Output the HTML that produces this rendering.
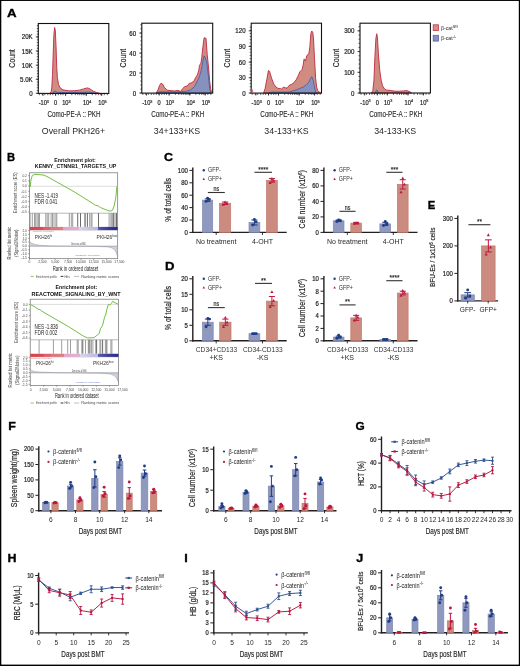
<!DOCTYPE html>
<html><head><meta charset="utf-8"><style>
html,body{margin:0;padding:0;background:#fff;width:520px;height:666px;overflow:hidden}
svg{display:block;will-change:transform}
text{font-family:"Liberation Sans", sans-serif}
</style></head><body>
<svg width="520" height="666" viewBox="0 0 520 666">
<rect x="0" y="0" width="520" height="666" fill="#fff"/>
<g fill="#231f20">
<rect x="0" y="0" width="520" height="0.95" fill="#000"/><rect x="0" y="0" width="1.3" height="666" fill="#000"/><rect x="518.8" y="0" width="1.2" height="666" fill="#000"/><rect x="0" y="664.6" width="520" height="1.4" fill="#000"/>
<path d="M49.77 93.31 L51.15 91.93 L51.85 87.08 L52.54 74.62 L53.23 52.46 L53.92 34.46 L54.62 27.54 L55.31 30.31 L56 45.54 L56.69 66.31 L57.39 77.39 L58.49 84.31 L60.15 87.77 L62.92 89.85 L68.46 90.82 L74 90.82 L79.54 90.13 L83.69 88.88 L87.16 87.91 L89.23 88.46 L91.31 89.85 L93.39 91.23 L96.16 92.34 L99.62 93.31 L99.62 93.4 L49.77 93.4Z" fill="#d08c80" stroke="#c0304b" stroke-width="0.95" stroke-linejoin="round"/>
<path d="M53.23 93.31 L54.62 90.82 L55.59 91.51 L57.39 92.34 L65.69 92.62 L79.54 92.34 L89.23 92.06 L93.39 92.89 L96.16 93.31 L96.16 93.4 L53.23 93.4Z" fill="#8791be" stroke="#41579a" stroke-width="0.75" stroke-linejoin="round"/>
<rect x="38.3" y="23.5" width="70.5" height="69.9" fill="none" stroke="#111" stroke-width="1.1"/>
<line x1="35.8" y1="36.9" x2="38.3" y2="36.9" stroke="#231f20" stroke-width="0.8"/>
<text transform="translate(32.7 39.42) scale(0.88 1)" font-size="7" text-anchor="end" stroke="#231f20" stroke-width="0.22">20K</text>
<line x1="35.8" y1="51" x2="38.3" y2="51" stroke="#231f20" stroke-width="0.8"/>
<text transform="translate(32.7 53.52) scale(0.88 1)" font-size="7" text-anchor="end" stroke="#231f20" stroke-width="0.22">15K</text>
<line x1="35.8" y1="65.2" x2="38.3" y2="65.2" stroke="#231f20" stroke-width="0.8"/>
<text transform="translate(32.7 67.72) scale(0.88 1)" font-size="7" text-anchor="end" stroke="#231f20" stroke-width="0.22">10K</text>
<line x1="35.8" y1="79.2" x2="38.3" y2="79.2" stroke="#231f20" stroke-width="0.8"/>
<text transform="translate(32.7 81.72) scale(0.88 1)" font-size="7" text-anchor="end" stroke="#231f20" stroke-width="0.22">5.0K</text>
<line x1="35.8" y1="93.3" x2="38.3" y2="93.3" stroke="#231f20" stroke-width="0.8"/>
<text transform="translate(32.7 95.82) scale(0.88 1)" font-size="7" text-anchor="end" stroke="#231f20" stroke-width="0.22">0</text>
<line x1="36.8" y1="93.4" x2="38.3" y2="93.4" stroke="#231f20" stroke-width="0.7"/>
<line x1="36.8" y1="90.58" x2="38.3" y2="90.58" stroke="#231f20" stroke-width="0.7"/>
<line x1="36.8" y1="87.76" x2="38.3" y2="87.76" stroke="#231f20" stroke-width="0.7"/>
<line x1="36.8" y1="84.94" x2="38.3" y2="84.94" stroke="#231f20" stroke-width="0.7"/>
<line x1="36.8" y1="82.12" x2="38.3" y2="82.12" stroke="#231f20" stroke-width="0.7"/>
<line x1="36.8" y1="79.3" x2="38.3" y2="79.3" stroke="#231f20" stroke-width="0.7"/>
<line x1="36.8" y1="76.48" x2="38.3" y2="76.48" stroke="#231f20" stroke-width="0.7"/>
<line x1="36.8" y1="73.66" x2="38.3" y2="73.66" stroke="#231f20" stroke-width="0.7"/>
<line x1="36.8" y1="70.84" x2="38.3" y2="70.84" stroke="#231f20" stroke-width="0.7"/>
<line x1="36.8" y1="68.02" x2="38.3" y2="68.02" stroke="#231f20" stroke-width="0.7"/>
<line x1="36.8" y1="65.2" x2="38.3" y2="65.2" stroke="#231f20" stroke-width="0.7"/>
<line x1="36.8" y1="62.38" x2="38.3" y2="62.38" stroke="#231f20" stroke-width="0.7"/>
<line x1="36.8" y1="59.56" x2="38.3" y2="59.56" stroke="#231f20" stroke-width="0.7"/>
<line x1="36.8" y1="56.74" x2="38.3" y2="56.74" stroke="#231f20" stroke-width="0.7"/>
<line x1="36.8" y1="53.92" x2="38.3" y2="53.92" stroke="#231f20" stroke-width="0.7"/>
<line x1="36.8" y1="51.1" x2="38.3" y2="51.1" stroke="#231f20" stroke-width="0.7"/>
<line x1="36.8" y1="48.28" x2="38.3" y2="48.28" stroke="#231f20" stroke-width="0.7"/>
<line x1="36.8" y1="45.46" x2="38.3" y2="45.46" stroke="#231f20" stroke-width="0.7"/>
<line x1="36.8" y1="42.64" x2="38.3" y2="42.64" stroke="#231f20" stroke-width="0.7"/>
<line x1="36.8" y1="39.82" x2="38.3" y2="39.82" stroke="#231f20" stroke-width="0.7"/>
<line x1="36.8" y1="37" x2="38.3" y2="37" stroke="#231f20" stroke-width="0.7"/>
<line x1="36.8" y1="34.18" x2="38.3" y2="34.18" stroke="#231f20" stroke-width="0.7"/>
<line x1="36.8" y1="31.36" x2="38.3" y2="31.36" stroke="#231f20" stroke-width="0.7"/>
<line x1="36.8" y1="28.54" x2="38.3" y2="28.54" stroke="#231f20" stroke-width="0.7"/>
<line x1="36.8" y1="25.72" x2="38.3" y2="25.72" stroke="#231f20" stroke-width="0.7"/>
<line x1="43" y1="93.4" x2="43" y2="95.9" stroke="#231f20" stroke-width="0.8"/>
<line x1="55.6" y1="93.4" x2="55.6" y2="95.9" stroke="#231f20" stroke-width="0.8"/>
<line x1="65.6" y1="93.4" x2="65.6" y2="95.9" stroke="#231f20" stroke-width="0.8"/>
<line x1="86.3" y1="93.4" x2="86.3" y2="95.9" stroke="#231f20" stroke-width="0.8"/>
<line x1="101.7" y1="93.4" x2="101.7" y2="95.9" stroke="#231f20" stroke-width="0.8"/>
<line x1="39.3" y1="93.4" x2="39.3" y2="95.2" stroke="#231f20" stroke-width="0.75"/>
<line x1="42.3" y1="93.4" x2="42.3" y2="95.2" stroke="#231f20" stroke-width="0.75"/>
<line x1="44.8" y1="93.4" x2="44.8" y2="95.2" stroke="#231f20" stroke-width="0.75"/>
<line x1="47.8" y1="93.4" x2="47.8" y2="95.2" stroke="#231f20" stroke-width="0.75"/>
<line x1="50.3" y1="93.4" x2="50.3" y2="95.2" stroke="#231f20" stroke-width="0.75"/>
<line x1="52.8" y1="93.4" x2="52.8" y2="95.2" stroke="#231f20" stroke-width="0.75"/>
<line x1="55.6" y1="93.4" x2="55.6" y2="95.2" stroke="#231f20" stroke-width="0.75"/>
<line x1="58.3" y1="93.4" x2="58.3" y2="95.2" stroke="#231f20" stroke-width="0.75"/>
<line x1="60.8" y1="93.4" x2="60.8" y2="95.2" stroke="#231f20" stroke-width="0.75"/>
<line x1="63" y1="93.4" x2="63" y2="95.2" stroke="#231f20" stroke-width="0.75"/>
<line x1="65.6" y1="93.4" x2="65.6" y2="95.2" stroke="#231f20" stroke-width="0.75"/>
<line x1="71.8" y1="93.4" x2="71.8" y2="95.2" stroke="#231f20" stroke-width="0.75"/>
<line x1="75.3" y1="93.4" x2="75.3" y2="95.2" stroke="#231f20" stroke-width="0.75"/>
<line x1="77.8" y1="93.4" x2="77.8" y2="95.2" stroke="#231f20" stroke-width="0.75"/>
<line x1="79.8" y1="93.4" x2="79.8" y2="95.2" stroke="#231f20" stroke-width="0.75"/>
<line x1="81.8" y1="93.4" x2="81.8" y2="95.2" stroke="#231f20" stroke-width="0.75"/>
<line x1="83.3" y1="93.4" x2="83.3" y2="95.2" stroke="#231f20" stroke-width="0.75"/>
<line x1="84.8" y1="93.4" x2="84.8" y2="95.2" stroke="#231f20" stroke-width="0.75"/>
<line x1="86.3" y1="93.4" x2="86.3" y2="95.2" stroke="#231f20" stroke-width="0.75"/>
<line x1="92.3" y1="93.4" x2="92.3" y2="95.2" stroke="#231f20" stroke-width="0.75"/>
<line x1="95.8" y1="93.4" x2="95.8" y2="95.2" stroke="#231f20" stroke-width="0.75"/>
<line x1="98.3" y1="93.4" x2="98.3" y2="95.2" stroke="#231f20" stroke-width="0.75"/>
<line x1="100.3" y1="93.4" x2="100.3" y2="95.2" stroke="#231f20" stroke-width="0.75"/>
<line x1="101.7" y1="93.4" x2="101.7" y2="95.2" stroke="#231f20" stroke-width="0.75"/>
<line x1="104.3" y1="93.4" x2="104.3" y2="95.2" stroke="#231f20" stroke-width="0.75"/>
<line x1="107.3" y1="93.4" x2="107.3" y2="95.2" stroke="#231f20" stroke-width="0.75"/>
<text transform="translate(43.8 105.2) scale(0.86 1)" font-size="6.6" text-anchor="middle" stroke="#231f20" stroke-width="0.2">-10<tspan font-size="4.4" dy="-2.4">3</tspan></text>
<text transform="translate(55.6 105.2) scale(0.86 1)" font-size="6.6" text-anchor="middle" stroke="#231f20" stroke-width="0.2">0</text>
<text transform="translate(66.4 105.2) scale(0.86 1)" font-size="6.6" text-anchor="middle" stroke="#231f20" stroke-width="0.2">10<tspan font-size="4.4" dy="-2.4">3</tspan></text>
<text transform="translate(87.1 105.2) scale(0.86 1)" font-size="6.6" text-anchor="middle" stroke="#231f20" stroke-width="0.2">10<tspan font-size="4.4" dy="-2.4">4</tspan></text>
<text transform="translate(102.5 105.2) scale(0.86 1)" font-size="6.6" text-anchor="middle" stroke="#231f20" stroke-width="0.2">10<tspan font-size="4.4" dy="-2.4">5</tspan></text>
<text x="74.05" y="117.13" font-size="8.7" text-anchor="middle" textLength="53" lengthAdjust="spacingAndGlyphs" stroke="#231f20" stroke-width="0.12">Como-PE-A :: PKH</text>
<text transform="rotate(-90 11.5 58.45)" x="11.5" y="61.47" font-size="8.4" text-anchor="middle" textLength="18.5" lengthAdjust="spacingAndGlyphs" stroke="#231f20" stroke-width="0.15">Count</text>
<text x="73.5" y="133.97" font-size="8.8" text-anchor="middle">Overall PKH26+</text>
<path d="M156.2 93.1 L158 90 L159.6 85.4 L161 83.2 L162.5 84 L164.5 87.5 L167.3 90.2 L172 90.8 L175 91 L177.9 90.3 L180.4 91.5 L182.8 88.5 L184.8 86.4 L187.2 86.1 L189.1 83.5 L191.6 82.7 L194 81.2 L195.5 77.8 L197.4 74.9 L198.9 70 L199.4 65.6 L200.9 63.2 L201.8 57.3 L202.8 47.6 L204.1 37.8 L206 38.3 L207.2 54.4 L208.7 69 L209.6 80.7 L210.6 88.5 L211.6 92.5 L211.6 93.1 L156.2 93.1Z" fill="#d08c80" stroke="#c0304b" stroke-width="0.95" stroke-linejoin="round"/>
<path d="M156.2 93.1 L160 91.8 L175 92 L184.8 91.5 L190.6 90 L194.5 86.6 L197.4 80.7 L199.4 76.8 L201.3 70 L202.8 61.2 L204.1 55.9 L205.2 57.3 L206.7 62.2 L208.2 73.9 L209.6 88.5 L210.6 92.5 L210.6 93.1 L156.2 93.1Z" fill="#8791be" stroke="#41579a" stroke-width="0.75" stroke-linejoin="round"/>
<rect x="141.8" y="23.2" width="70.9" height="69.9" fill="none" stroke="#111" stroke-width="1.1"/>
<line x1="139.3" y1="33.1" x2="141.8" y2="33.1" stroke="#231f20" stroke-width="0.8"/>
<text transform="translate(136.2 35.62) scale(0.88 1)" font-size="7" text-anchor="end" stroke="#231f20" stroke-width="0.22">60</text>
<line x1="139.3" y1="53.2" x2="141.8" y2="53.2" stroke="#231f20" stroke-width="0.8"/>
<text transform="translate(136.2 55.72) scale(0.88 1)" font-size="7" text-anchor="end" stroke="#231f20" stroke-width="0.22">40</text>
<line x1="139.3" y1="73" x2="141.8" y2="73" stroke="#231f20" stroke-width="0.8"/>
<text transform="translate(136.2 75.52) scale(0.88 1)" font-size="7" text-anchor="end" stroke="#231f20" stroke-width="0.22">20</text>
<line x1="139.3" y1="93" x2="141.8" y2="93" stroke="#231f20" stroke-width="0.8"/>
<text transform="translate(136.2 95.52) scale(0.88 1)" font-size="7" text-anchor="end" stroke="#231f20" stroke-width="0.22">0</text>
<line x1="140.3" y1="93.1" x2="141.8" y2="93.1" stroke="#231f20" stroke-width="0.7"/>
<line x1="140.3" y1="89.08" x2="141.8" y2="89.08" stroke="#231f20" stroke-width="0.7"/>
<line x1="140.3" y1="85.06" x2="141.8" y2="85.06" stroke="#231f20" stroke-width="0.7"/>
<line x1="140.3" y1="81.04" x2="141.8" y2="81.04" stroke="#231f20" stroke-width="0.7"/>
<line x1="140.3" y1="77.02" x2="141.8" y2="77.02" stroke="#231f20" stroke-width="0.7"/>
<line x1="140.3" y1="73" x2="141.8" y2="73" stroke="#231f20" stroke-width="0.7"/>
<line x1="140.3" y1="68.98" x2="141.8" y2="68.98" stroke="#231f20" stroke-width="0.7"/>
<line x1="140.3" y1="64.96" x2="141.8" y2="64.96" stroke="#231f20" stroke-width="0.7"/>
<line x1="140.3" y1="60.94" x2="141.8" y2="60.94" stroke="#231f20" stroke-width="0.7"/>
<line x1="140.3" y1="56.92" x2="141.8" y2="56.92" stroke="#231f20" stroke-width="0.7"/>
<line x1="140.3" y1="52.9" x2="141.8" y2="52.9" stroke="#231f20" stroke-width="0.7"/>
<line x1="140.3" y1="48.88" x2="141.8" y2="48.88" stroke="#231f20" stroke-width="0.7"/>
<line x1="140.3" y1="44.86" x2="141.8" y2="44.86" stroke="#231f20" stroke-width="0.7"/>
<line x1="140.3" y1="40.84" x2="141.8" y2="40.84" stroke="#231f20" stroke-width="0.7"/>
<line x1="140.3" y1="36.82" x2="141.8" y2="36.82" stroke="#231f20" stroke-width="0.7"/>
<line x1="140.3" y1="32.8" x2="141.8" y2="32.8" stroke="#231f20" stroke-width="0.7"/>
<line x1="140.3" y1="28.78" x2="141.8" y2="28.78" stroke="#231f20" stroke-width="0.7"/>
<line x1="140.3" y1="24.76" x2="141.8" y2="24.76" stroke="#231f20" stroke-width="0.7"/>
<line x1="146.5" y1="93.1" x2="146.5" y2="95.6" stroke="#231f20" stroke-width="0.8"/>
<line x1="159.1" y1="93.1" x2="159.1" y2="95.6" stroke="#231f20" stroke-width="0.8"/>
<line x1="169.1" y1="93.1" x2="169.1" y2="95.6" stroke="#231f20" stroke-width="0.8"/>
<line x1="189.8" y1="93.1" x2="189.8" y2="95.6" stroke="#231f20" stroke-width="0.8"/>
<line x1="205.2" y1="93.1" x2="205.2" y2="95.6" stroke="#231f20" stroke-width="0.8"/>
<line x1="142.8" y1="93.1" x2="142.8" y2="94.9" stroke="#231f20" stroke-width="0.75"/>
<line x1="145.8" y1="93.1" x2="145.8" y2="94.9" stroke="#231f20" stroke-width="0.75"/>
<line x1="148.3" y1="93.1" x2="148.3" y2="94.9" stroke="#231f20" stroke-width="0.75"/>
<line x1="151.3" y1="93.1" x2="151.3" y2="94.9" stroke="#231f20" stroke-width="0.75"/>
<line x1="153.8" y1="93.1" x2="153.8" y2="94.9" stroke="#231f20" stroke-width="0.75"/>
<line x1="156.3" y1="93.1" x2="156.3" y2="94.9" stroke="#231f20" stroke-width="0.75"/>
<line x1="159.1" y1="93.1" x2="159.1" y2="94.9" stroke="#231f20" stroke-width="0.75"/>
<line x1="161.8" y1="93.1" x2="161.8" y2="94.9" stroke="#231f20" stroke-width="0.75"/>
<line x1="164.3" y1="93.1" x2="164.3" y2="94.9" stroke="#231f20" stroke-width="0.75"/>
<line x1="166.5" y1="93.1" x2="166.5" y2="94.9" stroke="#231f20" stroke-width="0.75"/>
<line x1="169.1" y1="93.1" x2="169.1" y2="94.9" stroke="#231f20" stroke-width="0.75"/>
<line x1="175.3" y1="93.1" x2="175.3" y2="94.9" stroke="#231f20" stroke-width="0.75"/>
<line x1="178.8" y1="93.1" x2="178.8" y2="94.9" stroke="#231f20" stroke-width="0.75"/>
<line x1="181.3" y1="93.1" x2="181.3" y2="94.9" stroke="#231f20" stroke-width="0.75"/>
<line x1="183.3" y1="93.1" x2="183.3" y2="94.9" stroke="#231f20" stroke-width="0.75"/>
<line x1="185.3" y1="93.1" x2="185.3" y2="94.9" stroke="#231f20" stroke-width="0.75"/>
<line x1="186.8" y1="93.1" x2="186.8" y2="94.9" stroke="#231f20" stroke-width="0.75"/>
<line x1="188.3" y1="93.1" x2="188.3" y2="94.9" stroke="#231f20" stroke-width="0.75"/>
<line x1="189.8" y1="93.1" x2="189.8" y2="94.9" stroke="#231f20" stroke-width="0.75"/>
<line x1="195.8" y1="93.1" x2="195.8" y2="94.9" stroke="#231f20" stroke-width="0.75"/>
<line x1="199.3" y1="93.1" x2="199.3" y2="94.9" stroke="#231f20" stroke-width="0.75"/>
<line x1="201.8" y1="93.1" x2="201.8" y2="94.9" stroke="#231f20" stroke-width="0.75"/>
<line x1="203.8" y1="93.1" x2="203.8" y2="94.9" stroke="#231f20" stroke-width="0.75"/>
<line x1="205.2" y1="93.1" x2="205.2" y2="94.9" stroke="#231f20" stroke-width="0.75"/>
<line x1="207.8" y1="93.1" x2="207.8" y2="94.9" stroke="#231f20" stroke-width="0.75"/>
<line x1="210.8" y1="93.1" x2="210.8" y2="94.9" stroke="#231f20" stroke-width="0.75"/>
<text transform="translate(147.3 104.9) scale(0.86 1)" font-size="6.6" text-anchor="middle" stroke="#231f20" stroke-width="0.2">-10<tspan font-size="4.4" dy="-2.4">3</tspan></text>
<text transform="translate(159.1 104.9) scale(0.86 1)" font-size="6.6" text-anchor="middle" stroke="#231f20" stroke-width="0.2">0</text>
<text transform="translate(169.9 104.9) scale(0.86 1)" font-size="6.6" text-anchor="middle" stroke="#231f20" stroke-width="0.2">10<tspan font-size="4.4" dy="-2.4">3</tspan></text>
<text transform="translate(190.6 104.9) scale(0.86 1)" font-size="6.6" text-anchor="middle" stroke="#231f20" stroke-width="0.2">10<tspan font-size="4.4" dy="-2.4">4</tspan></text>
<text transform="translate(206 104.9) scale(0.86 1)" font-size="6.6" text-anchor="middle" stroke="#231f20" stroke-width="0.2">10<tspan font-size="4.4" dy="-2.4">5</tspan></text>
<text x="177.75" y="116.83" font-size="8.7" text-anchor="middle" textLength="53" lengthAdjust="spacingAndGlyphs" stroke="#231f20" stroke-width="0.12">Como-PE-A :: PKH</text>
<text transform="rotate(-90 122.7 58.15)" x="122.7" y="61.17" font-size="8.4" text-anchor="middle" textLength="18.5" lengthAdjust="spacingAndGlyphs" stroke="#231f20" stroke-width="0.15">Count</text>
<text x="177" y="133.97" font-size="8.8" text-anchor="middle">34+133+KS</text>
<path d="M263.7 92.79 L265.14 88.46 L267.02 78.37 L268.46 70.43 L269.47 71.16 L271.64 78.37 L273.8 84.14 L275.96 87.02 L278.13 88.46 L280.29 88.46 L281.73 89.19 L283.46 87.02 L285.34 87.74 L287.21 88.18 L288.94 85.58 L291.83 84.14 L293.99 82.7 L296.16 79.81 L298.32 75.48 L299.76 71.88 L301.93 69.71 L303.08 65.39 L304.09 58.9 L305.53 61.06 L306.69 56.01 L307.7 54.57 L308.85 53.85 L309.86 46.64 L310.87 33.65 L311.73 31.06 L312.74 32.21 L313.46 37.98 L314.47 58.17 L315.63 78.37 L316.64 87.02 L317.79 90.63 L319.23 92.07 L320.68 92.79 L320.68 93.1 L263.7 93.1Z" fill="#d08c80" stroke="#c0304b" stroke-width="0.95" stroke-linejoin="round"/>
<path d="M268.75 92.79 L271.64 92.07 L288.94 92.07 L293.27 90.63 L296.16 89.91 L299.76 88.46 L303.37 87.02 L306.25 84.86 L308.42 82.7 L310.29 79.09 L311.73 76.64 L313.18 79.81 L314.19 85.58 L315.63 92.07 L316.64 92.79 L316.64 93.1 L268.75 93.1Z" fill="#8791be" stroke="#41579a" stroke-width="0.75" stroke-linejoin="round"/>
<rect x="251.2" y="23.2" width="70.3" height="69.9" fill="none" stroke="#111" stroke-width="1.1"/>
<line x1="248.7" y1="30.8" x2="251.2" y2="30.8" stroke="#231f20" stroke-width="0.8"/>
<text transform="translate(245.6 33.32) scale(0.88 1)" font-size="7" text-anchor="end" stroke="#231f20" stroke-width="0.22">120</text>
<line x1="248.7" y1="46.5" x2="251.2" y2="46.5" stroke="#231f20" stroke-width="0.8"/>
<text transform="translate(245.6 49.02) scale(0.88 1)" font-size="7" text-anchor="end" stroke="#231f20" stroke-width="0.22">90</text>
<line x1="248.7" y1="62.2" x2="251.2" y2="62.2" stroke="#231f20" stroke-width="0.8"/>
<text transform="translate(245.6 64.72) scale(0.88 1)" font-size="7" text-anchor="end" stroke="#231f20" stroke-width="0.22">60</text>
<line x1="248.7" y1="77.8" x2="251.2" y2="77.8" stroke="#231f20" stroke-width="0.8"/>
<text transform="translate(245.6 80.32) scale(0.88 1)" font-size="7" text-anchor="end" stroke="#231f20" stroke-width="0.22">30</text>
<line x1="248.7" y1="93" x2="251.2" y2="93" stroke="#231f20" stroke-width="0.8"/>
<text transform="translate(245.6 95.52) scale(0.88 1)" font-size="7" text-anchor="end" stroke="#231f20" stroke-width="0.22">0</text>
<line x1="249.7" y1="93.1" x2="251.2" y2="93.1" stroke="#231f20" stroke-width="0.7"/>
<line x1="249.7" y1="89.96" x2="251.2" y2="89.96" stroke="#231f20" stroke-width="0.7"/>
<line x1="249.7" y1="86.82" x2="251.2" y2="86.82" stroke="#231f20" stroke-width="0.7"/>
<line x1="249.7" y1="83.68" x2="251.2" y2="83.68" stroke="#231f20" stroke-width="0.7"/>
<line x1="249.7" y1="80.54" x2="251.2" y2="80.54" stroke="#231f20" stroke-width="0.7"/>
<line x1="249.7" y1="77.4" x2="251.2" y2="77.4" stroke="#231f20" stroke-width="0.7"/>
<line x1="249.7" y1="74.26" x2="251.2" y2="74.26" stroke="#231f20" stroke-width="0.7"/>
<line x1="249.7" y1="71.12" x2="251.2" y2="71.12" stroke="#231f20" stroke-width="0.7"/>
<line x1="249.7" y1="67.98" x2="251.2" y2="67.98" stroke="#231f20" stroke-width="0.7"/>
<line x1="249.7" y1="64.84" x2="251.2" y2="64.84" stroke="#231f20" stroke-width="0.7"/>
<line x1="249.7" y1="61.7" x2="251.2" y2="61.7" stroke="#231f20" stroke-width="0.7"/>
<line x1="249.7" y1="58.56" x2="251.2" y2="58.56" stroke="#231f20" stroke-width="0.7"/>
<line x1="249.7" y1="55.42" x2="251.2" y2="55.42" stroke="#231f20" stroke-width="0.7"/>
<line x1="249.7" y1="52.28" x2="251.2" y2="52.28" stroke="#231f20" stroke-width="0.7"/>
<line x1="249.7" y1="49.14" x2="251.2" y2="49.14" stroke="#231f20" stroke-width="0.7"/>
<line x1="249.7" y1="46" x2="251.2" y2="46" stroke="#231f20" stroke-width="0.7"/>
<line x1="249.7" y1="42.86" x2="251.2" y2="42.86" stroke="#231f20" stroke-width="0.7"/>
<line x1="249.7" y1="39.72" x2="251.2" y2="39.72" stroke="#231f20" stroke-width="0.7"/>
<line x1="249.7" y1="36.58" x2="251.2" y2="36.58" stroke="#231f20" stroke-width="0.7"/>
<line x1="249.7" y1="33.44" x2="251.2" y2="33.44" stroke="#231f20" stroke-width="0.7"/>
<line x1="249.7" y1="30.3" x2="251.2" y2="30.3" stroke="#231f20" stroke-width="0.7"/>
<line x1="249.7" y1="27.16" x2="251.2" y2="27.16" stroke="#231f20" stroke-width="0.7"/>
<line x1="255.9" y1="93.1" x2="255.9" y2="95.6" stroke="#231f20" stroke-width="0.8"/>
<line x1="268.5" y1="93.1" x2="268.5" y2="95.6" stroke="#231f20" stroke-width="0.8"/>
<line x1="278.5" y1="93.1" x2="278.5" y2="95.6" stroke="#231f20" stroke-width="0.8"/>
<line x1="299.2" y1="93.1" x2="299.2" y2="95.6" stroke="#231f20" stroke-width="0.8"/>
<line x1="314.6" y1="93.1" x2="314.6" y2="95.6" stroke="#231f20" stroke-width="0.8"/>
<line x1="252.2" y1="93.1" x2="252.2" y2="94.9" stroke="#231f20" stroke-width="0.75"/>
<line x1="255.2" y1="93.1" x2="255.2" y2="94.9" stroke="#231f20" stroke-width="0.75"/>
<line x1="257.7" y1="93.1" x2="257.7" y2="94.9" stroke="#231f20" stroke-width="0.75"/>
<line x1="260.7" y1="93.1" x2="260.7" y2="94.9" stroke="#231f20" stroke-width="0.75"/>
<line x1="263.2" y1="93.1" x2="263.2" y2="94.9" stroke="#231f20" stroke-width="0.75"/>
<line x1="265.7" y1="93.1" x2="265.7" y2="94.9" stroke="#231f20" stroke-width="0.75"/>
<line x1="268.5" y1="93.1" x2="268.5" y2="94.9" stroke="#231f20" stroke-width="0.75"/>
<line x1="271.2" y1="93.1" x2="271.2" y2="94.9" stroke="#231f20" stroke-width="0.75"/>
<line x1="273.7" y1="93.1" x2="273.7" y2="94.9" stroke="#231f20" stroke-width="0.75"/>
<line x1="275.9" y1="93.1" x2="275.9" y2="94.9" stroke="#231f20" stroke-width="0.75"/>
<line x1="278.5" y1="93.1" x2="278.5" y2="94.9" stroke="#231f20" stroke-width="0.75"/>
<line x1="284.7" y1="93.1" x2="284.7" y2="94.9" stroke="#231f20" stroke-width="0.75"/>
<line x1="288.2" y1="93.1" x2="288.2" y2="94.9" stroke="#231f20" stroke-width="0.75"/>
<line x1="290.7" y1="93.1" x2="290.7" y2="94.9" stroke="#231f20" stroke-width="0.75"/>
<line x1="292.7" y1="93.1" x2="292.7" y2="94.9" stroke="#231f20" stroke-width="0.75"/>
<line x1="294.7" y1="93.1" x2="294.7" y2="94.9" stroke="#231f20" stroke-width="0.75"/>
<line x1="296.2" y1="93.1" x2="296.2" y2="94.9" stroke="#231f20" stroke-width="0.75"/>
<line x1="297.7" y1="93.1" x2="297.7" y2="94.9" stroke="#231f20" stroke-width="0.75"/>
<line x1="299.2" y1="93.1" x2="299.2" y2="94.9" stroke="#231f20" stroke-width="0.75"/>
<line x1="305.2" y1="93.1" x2="305.2" y2="94.9" stroke="#231f20" stroke-width="0.75"/>
<line x1="308.7" y1="93.1" x2="308.7" y2="94.9" stroke="#231f20" stroke-width="0.75"/>
<line x1="311.2" y1="93.1" x2="311.2" y2="94.9" stroke="#231f20" stroke-width="0.75"/>
<line x1="313.2" y1="93.1" x2="313.2" y2="94.9" stroke="#231f20" stroke-width="0.75"/>
<line x1="314.6" y1="93.1" x2="314.6" y2="94.9" stroke="#231f20" stroke-width="0.75"/>
<line x1="317.2" y1="93.1" x2="317.2" y2="94.9" stroke="#231f20" stroke-width="0.75"/>
<line x1="320.2" y1="93.1" x2="320.2" y2="94.9" stroke="#231f20" stroke-width="0.75"/>
<text transform="translate(256.7 104.9) scale(0.86 1)" font-size="6.6" text-anchor="middle" stroke="#231f20" stroke-width="0.2">-10<tspan font-size="4.4" dy="-2.4">3</tspan></text>
<text transform="translate(268.5 104.9) scale(0.86 1)" font-size="6.6" text-anchor="middle" stroke="#231f20" stroke-width="0.2">0</text>
<text transform="translate(279.3 104.9) scale(0.86 1)" font-size="6.6" text-anchor="middle" stroke="#231f20" stroke-width="0.2">10<tspan font-size="4.4" dy="-2.4">3</tspan></text>
<text transform="translate(300 104.9) scale(0.86 1)" font-size="6.6" text-anchor="middle" stroke="#231f20" stroke-width="0.2">10<tspan font-size="4.4" dy="-2.4">4</tspan></text>
<text transform="translate(315.4 104.9) scale(0.86 1)" font-size="6.6" text-anchor="middle" stroke="#231f20" stroke-width="0.2">10<tspan font-size="4.4" dy="-2.4">5</tspan></text>
<text x="286.85" y="116.83" font-size="8.7" text-anchor="middle" textLength="53" lengthAdjust="spacingAndGlyphs" stroke="#231f20" stroke-width="0.12">Como-PE-A :: PKH</text>
<text transform="rotate(-90 227 58.15)" x="227" y="61.17" font-size="8.4" text-anchor="middle" textLength="18.5" lengthAdjust="spacingAndGlyphs" stroke="#231f20" stroke-width="0.15">Count</text>
<text x="286.5" y="133.97" font-size="8.8" text-anchor="middle">34-133+KS</text>
<path d="M251.5 88 L252.3 90 L253 93 L251.5 93Z" fill="#d68f82" stroke="#c2344f" stroke-width="0.6" stroke-linejoin="round"/>
<path d="M371.46 93.31 L372.85 90.54 L373.95 80.16 L374.92 56.62 L375.89 38.62 L376.72 33.77 L377.42 37.23 L378.39 53.85 L379.77 70.46 L381.15 80.16 L382.54 85.69 L384.62 89.16 L386.69 90.13 L390.85 90.54 L395 91.23 L399.16 91.23 L403.31 90.96 L405.39 90.54 L407.46 90.82 L410.23 91.93 L411.62 93.31 L411.62 93 L371.46 93Z" fill="#d08c80" stroke="#c0304b" stroke-width="0.95" stroke-linejoin="round"/>
<path d="M374.92 93.31 L375.89 91.23 L376.72 89.85 L377.55 90.82 L378.39 93.31 L378.39 93 L374.92 93Z" fill="#8791be" stroke="#41579a" stroke-width="0.75" stroke-linejoin="round"/>
<rect x="360" y="23.2" width="70.4" height="69.8" fill="none" stroke="#111" stroke-width="1.1"/>
<line x1="357.5" y1="30.8" x2="360" y2="30.8" stroke="#231f20" stroke-width="0.8"/>
<text transform="translate(354.4 33.32) scale(0.88 1)" font-size="7" text-anchor="end" stroke="#231f20" stroke-width="0.22">300</text>
<line x1="357.5" y1="51.5" x2="360" y2="51.5" stroke="#231f20" stroke-width="0.8"/>
<text transform="translate(354.4 54.02) scale(0.88 1)" font-size="7" text-anchor="end" stroke="#231f20" stroke-width="0.22">200</text>
<line x1="357.5" y1="72.3" x2="360" y2="72.3" stroke="#231f20" stroke-width="0.8"/>
<text transform="translate(354.4 74.82) scale(0.88 1)" font-size="7" text-anchor="end" stroke="#231f20" stroke-width="0.22">100</text>
<line x1="357.5" y1="93" x2="360" y2="93" stroke="#231f20" stroke-width="0.8"/>
<text transform="translate(354.4 95.52) scale(0.88 1)" font-size="7" text-anchor="end" stroke="#231f20" stroke-width="0.22">0</text>
<line x1="358.5" y1="93" x2="360" y2="93" stroke="#231f20" stroke-width="0.7"/>
<line x1="358.5" y1="88.86" x2="360" y2="88.86" stroke="#231f20" stroke-width="0.7"/>
<line x1="358.5" y1="84.72" x2="360" y2="84.72" stroke="#231f20" stroke-width="0.7"/>
<line x1="358.5" y1="80.58" x2="360" y2="80.58" stroke="#231f20" stroke-width="0.7"/>
<line x1="358.5" y1="76.44" x2="360" y2="76.44" stroke="#231f20" stroke-width="0.7"/>
<line x1="358.5" y1="72.3" x2="360" y2="72.3" stroke="#231f20" stroke-width="0.7"/>
<line x1="358.5" y1="68.16" x2="360" y2="68.16" stroke="#231f20" stroke-width="0.7"/>
<line x1="358.5" y1="64.02" x2="360" y2="64.02" stroke="#231f20" stroke-width="0.7"/>
<line x1="358.5" y1="59.88" x2="360" y2="59.88" stroke="#231f20" stroke-width="0.7"/>
<line x1="358.5" y1="55.74" x2="360" y2="55.74" stroke="#231f20" stroke-width="0.7"/>
<line x1="358.5" y1="51.6" x2="360" y2="51.6" stroke="#231f20" stroke-width="0.7"/>
<line x1="358.5" y1="47.46" x2="360" y2="47.46" stroke="#231f20" stroke-width="0.7"/>
<line x1="358.5" y1="43.32" x2="360" y2="43.32" stroke="#231f20" stroke-width="0.7"/>
<line x1="358.5" y1="39.18" x2="360" y2="39.18" stroke="#231f20" stroke-width="0.7"/>
<line x1="358.5" y1="35.04" x2="360" y2="35.04" stroke="#231f20" stroke-width="0.7"/>
<line x1="358.5" y1="30.9" x2="360" y2="30.9" stroke="#231f20" stroke-width="0.7"/>
<line x1="358.5" y1="26.76" x2="360" y2="26.76" stroke="#231f20" stroke-width="0.7"/>
<line x1="364.7" y1="93" x2="364.7" y2="95.5" stroke="#231f20" stroke-width="0.8"/>
<line x1="377.3" y1="93" x2="377.3" y2="95.5" stroke="#231f20" stroke-width="0.8"/>
<line x1="387.3" y1="93" x2="387.3" y2="95.5" stroke="#231f20" stroke-width="0.8"/>
<line x1="408" y1="93" x2="408" y2="95.5" stroke="#231f20" stroke-width="0.8"/>
<line x1="423.4" y1="93" x2="423.4" y2="95.5" stroke="#231f20" stroke-width="0.8"/>
<line x1="361" y1="93" x2="361" y2="94.8" stroke="#231f20" stroke-width="0.75"/>
<line x1="364" y1="93" x2="364" y2="94.8" stroke="#231f20" stroke-width="0.75"/>
<line x1="366.5" y1="93" x2="366.5" y2="94.8" stroke="#231f20" stroke-width="0.75"/>
<line x1="369.5" y1="93" x2="369.5" y2="94.8" stroke="#231f20" stroke-width="0.75"/>
<line x1="372" y1="93" x2="372" y2="94.8" stroke="#231f20" stroke-width="0.75"/>
<line x1="374.5" y1="93" x2="374.5" y2="94.8" stroke="#231f20" stroke-width="0.75"/>
<line x1="377.3" y1="93" x2="377.3" y2="94.8" stroke="#231f20" stroke-width="0.75"/>
<line x1="380" y1="93" x2="380" y2="94.8" stroke="#231f20" stroke-width="0.75"/>
<line x1="382.5" y1="93" x2="382.5" y2="94.8" stroke="#231f20" stroke-width="0.75"/>
<line x1="384.7" y1="93" x2="384.7" y2="94.8" stroke="#231f20" stroke-width="0.75"/>
<line x1="387.3" y1="93" x2="387.3" y2="94.8" stroke="#231f20" stroke-width="0.75"/>
<line x1="393.5" y1="93" x2="393.5" y2="94.8" stroke="#231f20" stroke-width="0.75"/>
<line x1="397" y1="93" x2="397" y2="94.8" stroke="#231f20" stroke-width="0.75"/>
<line x1="399.5" y1="93" x2="399.5" y2="94.8" stroke="#231f20" stroke-width="0.75"/>
<line x1="401.5" y1="93" x2="401.5" y2="94.8" stroke="#231f20" stroke-width="0.75"/>
<line x1="403.5" y1="93" x2="403.5" y2="94.8" stroke="#231f20" stroke-width="0.75"/>
<line x1="405" y1="93" x2="405" y2="94.8" stroke="#231f20" stroke-width="0.75"/>
<line x1="406.5" y1="93" x2="406.5" y2="94.8" stroke="#231f20" stroke-width="0.75"/>
<line x1="408" y1="93" x2="408" y2="94.8" stroke="#231f20" stroke-width="0.75"/>
<line x1="414" y1="93" x2="414" y2="94.8" stroke="#231f20" stroke-width="0.75"/>
<line x1="417.5" y1="93" x2="417.5" y2="94.8" stroke="#231f20" stroke-width="0.75"/>
<line x1="420" y1="93" x2="420" y2="94.8" stroke="#231f20" stroke-width="0.75"/>
<line x1="422" y1="93" x2="422" y2="94.8" stroke="#231f20" stroke-width="0.75"/>
<line x1="423.4" y1="93" x2="423.4" y2="94.8" stroke="#231f20" stroke-width="0.75"/>
<line x1="426" y1="93" x2="426" y2="94.8" stroke="#231f20" stroke-width="0.75"/>
<line x1="429" y1="93" x2="429" y2="94.8" stroke="#231f20" stroke-width="0.75"/>
<text transform="translate(365.5 104.8) scale(0.86 1)" font-size="6.6" text-anchor="middle" stroke="#231f20" stroke-width="0.2">-10<tspan font-size="4.4" dy="-2.4">3</tspan></text>
<text transform="translate(377.3 104.8) scale(0.86 1)" font-size="6.6" text-anchor="middle" stroke="#231f20" stroke-width="0.2">0</text>
<text transform="translate(388.1 104.8) scale(0.86 1)" font-size="6.6" text-anchor="middle" stroke="#231f20" stroke-width="0.2">10<tspan font-size="4.4" dy="-2.4">3</tspan></text>
<text transform="translate(408.8 104.8) scale(0.86 1)" font-size="6.6" text-anchor="middle" stroke="#231f20" stroke-width="0.2">10<tspan font-size="4.4" dy="-2.4">4</tspan></text>
<text transform="translate(424.2 104.8) scale(0.86 1)" font-size="6.6" text-anchor="middle" stroke="#231f20" stroke-width="0.2">10<tspan font-size="4.4" dy="-2.4">5</tspan></text>
<text x="395.7" y="116.73" font-size="8.7" text-anchor="middle" textLength="53" lengthAdjust="spacingAndGlyphs" stroke="#231f20" stroke-width="0.12">Como-PE-A :: PKH</text>
<text transform="rotate(-90 335.5 58.1)" x="335.5" y="61.12" font-size="8.4" text-anchor="middle" textLength="18.5" lengthAdjust="spacingAndGlyphs" stroke="#231f20" stroke-width="0.15">Count</text>
<text x="395.2" y="133.97" font-size="8.8" text-anchor="middle">34-133-KS</text>
<rect x="433.2" y="24.8" width="5.3" height="5.8" fill="#d68f82" stroke="#c2344f" stroke-width="0.8"/>
<rect x="433.2" y="35.3" width="5.3" height="5.8" fill="#8591c4" stroke="#56629e" stroke-width="0.8"/>
<text x="441" y="29.67" font-size="5.2" text-anchor="start">β-cat<tspan font-size="3.8" dy="-2">fl/fl</tspan></text>
<text x="441" y="40.17" font-size="5.2" text-anchor="start">β-cat<tspan font-size="3.8" dy="-2">-/-</tspan></text>
<text x="7.1" y="160.8" font-size="11.8" font-weight="bold" fill="#000" stroke="#000" stroke-width="0.35" textLength="8.1" lengthAdjust="spacingAndGlyphs">B</text>
<text x="75" y="161.96" font-size="6" text-anchor="middle" font-weight="bold" fill="#111" textLength="41.4" lengthAdjust="spacingAndGlyphs">Enrichment plot:</text>
<text x="75.55" y="168.31" font-size="6" text-anchor="middle" font-weight="bold" fill="#111" textLength="81.5" lengthAdjust="spacingAndGlyphs">KENNY_CTNNB1_TARGETS_UP</text>
<rect x="29.5" y="172.8" width="88.2" height="85.9" fill="none" stroke="#6e6e6e" stroke-width="0.7"/>
<line x1="29.5" y1="213.2" x2="117.7" y2="213.2" stroke="#8a8a8a" stroke-width="0.6"/>
<line x1="29.5" y1="230.1" x2="117.7" y2="230.1" stroke="#9a9a9a" stroke-width="0.5"/>
<line x1="29.5" y1="186.3" x2="117.7" y2="186.3" stroke="#c4c4c4" stroke-width="0.6"/>
<line x1="28" y1="175.7" x2="29.5" y2="175.7" stroke="#555" stroke-width="0.5"/>
<text transform="translate(26.9 177) scale(0.9 1)" font-size="3.6" text-anchor="end" fill="#444">0.2</text>
<line x1="28" y1="180.87" x2="29.5" y2="180.87" stroke="#555" stroke-width="0.5"/>
<text transform="translate(26.9 182.17) scale(0.9 1)" font-size="3.6" text-anchor="end" fill="#444">0.1</text>
<line x1="28" y1="186.04" x2="29.5" y2="186.04" stroke="#555" stroke-width="0.5"/>
<text transform="translate(26.9 187.34) scale(0.9 1)" font-size="3.6" text-anchor="end" fill="#444">0.0</text>
<line x1="28" y1="191.21" x2="29.5" y2="191.21" stroke="#555" stroke-width="0.5"/>
<text transform="translate(26.9 192.51) scale(0.9 1)" font-size="3.6" text-anchor="end" fill="#444">-0.1</text>
<line x1="28" y1="196.39" x2="29.5" y2="196.39" stroke="#555" stroke-width="0.5"/>
<text transform="translate(26.9 197.68) scale(0.9 1)" font-size="3.6" text-anchor="end" fill="#444">-0.2</text>
<line x1="28" y1="201.56" x2="29.5" y2="201.56" stroke="#555" stroke-width="0.5"/>
<text transform="translate(26.9 202.85) scale(0.9 1)" font-size="3.6" text-anchor="end" fill="#444">-0.3</text>
<line x1="28" y1="206.73" x2="29.5" y2="206.73" stroke="#555" stroke-width="0.5"/>
<text transform="translate(26.9 208.02) scale(0.9 1)" font-size="3.6" text-anchor="end" fill="#444">-0.4</text>
<line x1="28" y1="211.9" x2="29.5" y2="211.9" stroke="#555" stroke-width="0.5"/>
<text transform="translate(26.9 213.2) scale(0.9 1)" font-size="3.6" text-anchor="end" fill="#444">-0.5</text>
<path d="M30.2 187 L30.8 181 L31.5 178 L32.3 175.4 L34.8 174.3 L38 174.6 L41 174.8 L44 175.2 L48 177 L55 181 L65 186.6 L75 192.3 L85 198.5 L95.7 205.4 L98.3 206 L100.4 207.5 L104 209 L108.9 210.9 L111 211 L112.5 210.2 L114.1 206 L115.6 198.7 L116.3 193 L116.9 186.4" fill="none" stroke="#6cbb3a" stroke-width="0.95" stroke-linejoin="round"/>
<line x1="30.1" y1="213.2" x2="30.1" y2="226.9" stroke="#8c8c8c" stroke-width="0.85"/>
<line x1="32.3" y1="213.2" x2="32.3" y2="226.9" stroke="#8c8c8c" stroke-width="0.85"/>
<line x1="34.5" y1="213.2" x2="34.5" y2="226.9" stroke="#8c8c8c" stroke-width="0.85"/>
<line x1="35.7" y1="213.2" x2="35.7" y2="226.9" stroke="#8c8c8c" stroke-width="0.85"/>
<line x1="37.1" y1="213.2" x2="37.1" y2="226.9" stroke="#8c8c8c" stroke-width="0.85"/>
<line x1="38.4" y1="213.2" x2="38.4" y2="226.9" stroke="#8c8c8c" stroke-width="0.85"/>
<line x1="39.5" y1="213.2" x2="39.5" y2="226.9" stroke="#8c8c8c" stroke-width="0.85"/>
<line x1="45.8" y1="213.2" x2="45.8" y2="226.9" stroke="#8c8c8c" stroke-width="0.85"/>
<line x1="47.2" y1="213.2" x2="47.2" y2="226.9" stroke="#8c8c8c" stroke-width="0.85"/>
<line x1="48.7" y1="213.2" x2="48.7" y2="226.9" stroke="#8c8c8c" stroke-width="0.85"/>
<line x1="51.1" y1="213.2" x2="51.1" y2="226.9" stroke="#8c8c8c" stroke-width="0.85"/>
<line x1="52.5" y1="213.2" x2="52.5" y2="226.9" stroke="#8c8c8c" stroke-width="0.85"/>
<line x1="54" y1="213.2" x2="54" y2="226.9" stroke="#8c8c8c" stroke-width="0.85"/>
<line x1="55.9" y1="213.2" x2="55.9" y2="226.9" stroke="#8c8c8c" stroke-width="0.85"/>
<line x1="56.8" y1="213.2" x2="56.8" y2="226.9" stroke="#8c8c8c" stroke-width="0.85"/>
<line x1="69.3" y1="213.2" x2="69.3" y2="226.9" stroke="#8c8c8c" stroke-width="0.85"/>
<line x1="71.3" y1="213.2" x2="71.3" y2="226.9" stroke="#8c8c8c" stroke-width="0.85"/>
<line x1="72.7" y1="213.2" x2="72.7" y2="226.9" stroke="#8c8c8c" stroke-width="0.85"/>
<line x1="77.7" y1="213.2" x2="77.7" y2="226.9" stroke="#505050" stroke-width="0.85"/>
<line x1="80.5" y1="213.2" x2="80.5" y2="226.9" stroke="#505050" stroke-width="0.85"/>
<line x1="84.6" y1="213.2" x2="84.6" y2="226.9" stroke="#8c8c8c" stroke-width="0.85"/>
<line x1="85.5" y1="213.2" x2="85.5" y2="226.9" stroke="#8c8c8c" stroke-width="0.85"/>
<line x1="87.4" y1="213.2" x2="87.4" y2="226.9" stroke="#505050" stroke-width="0.85"/>
<line x1="89.7" y1="213.2" x2="89.7" y2="226.9" stroke="#8c8c8c" stroke-width="0.85"/>
<line x1="91.1" y1="213.2" x2="91.1" y2="226.9" stroke="#8c8c8c" stroke-width="0.85"/>
<line x1="92" y1="213.2" x2="92" y2="226.9" stroke="#8c8c8c" stroke-width="0.85"/>
<line x1="98.5" y1="213.2" x2="98.5" y2="226.9" stroke="#505050" stroke-width="0.85"/>
<line x1="109.1" y1="213.2" x2="109.1" y2="226.9" stroke="#8c8c8c" stroke-width="0.85"/>
<line x1="110.9" y1="213.2" x2="110.9" y2="226.9" stroke="#8c8c8c" stroke-width="0.85"/>
<line x1="111.9" y1="213.2" x2="111.9" y2="226.9" stroke="#8c8c8c" stroke-width="0.85"/>
<line x1="112.8" y1="213.2" x2="112.8" y2="226.9" stroke="#8c8c8c" stroke-width="0.85"/>
<line x1="113.7" y1="213.2" x2="113.7" y2="226.9" stroke="#505050" stroke-width="0.85"/>
<line x1="115.1" y1="213.2" x2="115.1" y2="226.9" stroke="#8c8c8c" stroke-width="0.85"/>
<line x1="116.5" y1="213.2" x2="116.5" y2="226.9" stroke="#505050" stroke-width="0.85"/>
<defs><linearGradient id="g172" x1="0" x2="1"><stop offset="0" stop-color="#d6434d"/><stop offset="0.15" stop-color="#d84c56"/><stop offset="0.16" stop-color="#d96170"/><stop offset="0.23" stop-color="#da6474"/><stop offset="0.24" stop-color="#dd7676"/><stop offset="0.378" stop-color="#df7d7d"/><stop offset="0.38" stop-color="#e6a4c8"/><stop offset="0.563" stop-color="#e2b0d4"/><stop offset="0.565" stop-color="#d9d4ee"/><stop offset="0.772" stop-color="#b8b6e2"/><stop offset="0.774" stop-color="#5a5aae"/><stop offset="0.88" stop-color="#3c3c9c"/><stop offset="1" stop-color="#2a2a8e"/></linearGradient></defs>
<rect x="29.5" y="226.9" width="88.2" height="3.2" fill="url(#g172)"/>
<line x1="28" y1="230.5" x2="29.5" y2="230.5" stroke="#555" stroke-width="0.5"/>
<text transform="translate(26.9 231.8) scale(0.9 1)" font-size="3.6" text-anchor="end" fill="#444">2.0</text>
<line x1="28" y1="234.37" x2="29.5" y2="234.37" stroke="#555" stroke-width="0.5"/>
<text transform="translate(26.9 235.67) scale(0.9 1)" font-size="3.6" text-anchor="end" fill="#444">1.5</text>
<line x1="28" y1="238.24" x2="29.5" y2="238.24" stroke="#555" stroke-width="0.5"/>
<text transform="translate(26.9 239.54) scale(0.9 1)" font-size="3.6" text-anchor="end" fill="#444">1.0</text>
<line x1="28" y1="242.11" x2="29.5" y2="242.11" stroke="#555" stroke-width="0.5"/>
<text transform="translate(26.9 243.41) scale(0.9 1)" font-size="3.6" text-anchor="end" fill="#444">0.5</text>
<line x1="28" y1="245.99" x2="29.5" y2="245.99" stroke="#555" stroke-width="0.5"/>
<text transform="translate(26.9 247.28) scale(0.9 1)" font-size="3.6" text-anchor="end" fill="#444">0.0</text>
<line x1="28" y1="249.86" x2="29.5" y2="249.86" stroke="#555" stroke-width="0.5"/>
<text transform="translate(26.9 251.15) scale(0.9 1)" font-size="3.6" text-anchor="end" fill="#444">-0.5</text>
<line x1="28" y1="253.73" x2="29.5" y2="253.73" stroke="#555" stroke-width="0.5"/>
<text transform="translate(26.9 255.02) scale(0.9 1)" font-size="3.6" text-anchor="end" fill="#444">-1.0</text>
<line x1="28" y1="257.6" x2="29.5" y2="257.6" stroke="#555" stroke-width="0.5"/>
<text transform="translate(26.9 258.9) scale(0.9 1)" font-size="3.6" text-anchor="end" fill="#444">-1.5</text>
<path d="M29.5 241.3 L30.5 242.2 L32 243.3 L35 244.5 L40 245.3 L50 245.9 L70 246.2 L95 246.4 L108 246.9 L112 248 L114.5 249.8 L116 252 L117.3 255.5 L117.4 246.2 L29.5 246.2Z" fill="#cfd2da" stroke="#8d939f" stroke-width="0.45" stroke-linejoin="round"/>
<line x1="29.5" y1="246.2" x2="117.7" y2="246.2" stroke="#999" stroke-width="0.35"/>
<text x="32.7" y="232.3" font-size="2.5" text-anchor="start" fill="#e07070" textLength="21" lengthAdjust="spacingAndGlyphs">positively correlated</text>
<text x="75.4" y="256.4" font-size="2.5" text-anchor="start" fill="#6670d0" textLength="24" lengthAdjust="spacingAndGlyphs">negatively correlated</text>
<text x="34.8" y="239.19" font-size="5.8" text-anchor="start" fill="#333" textLength="17.5" lengthAdjust="spacingAndGlyphs">PKH26<tspan font-size="3.8" dy="-2.2">hi</tspan></text>
<text x="96.6" y="239.19" font-size="5.8" text-anchor="start" fill="#333" textLength="20.5" lengthAdjust="spacingAndGlyphs">PKH26<tspan font-size="3.8" dy="-2.2">low</tspan></text>
<text x="78.5" y="245.34" font-size="2.6" text-anchor="middle" fill="#333" textLength="14.5" lengthAdjust="spacingAndGlyphs">Zero cross at 9300</text>
<line x1="29.5" y1="258.7" x2="29.5" y2="260" stroke="#555" stroke-width="0.5"/>
<text transform="translate(29.5 262.93) scale(0.9 1)" font-size="3.7" text-anchor="middle" fill="#444">0</text>
<line x1="42.34" y1="258.7" x2="42.34" y2="260" stroke="#555" stroke-width="0.5"/>
<text transform="translate(42.34 262.93) scale(0.9 1)" font-size="3.7" text-anchor="middle" fill="#444">2,500</text>
<line x1="55.18" y1="258.7" x2="55.18" y2="260" stroke="#555" stroke-width="0.5"/>
<text transform="translate(55.18 262.93) scale(0.9 1)" font-size="3.7" text-anchor="middle" fill="#444">5,000</text>
<line x1="68.02" y1="258.7" x2="68.02" y2="260" stroke="#555" stroke-width="0.5"/>
<text transform="translate(68.02 262.93) scale(0.9 1)" font-size="3.7" text-anchor="middle" fill="#444">7,500</text>
<line x1="80.86" y1="258.7" x2="80.86" y2="260" stroke="#555" stroke-width="0.5"/>
<text transform="translate(80.86 262.93) scale(0.9 1)" font-size="3.7" text-anchor="middle" fill="#444">10,000</text>
<line x1="93.7" y1="258.7" x2="93.7" y2="260" stroke="#555" stroke-width="0.5"/>
<text transform="translate(93.7 262.93) scale(0.9 1)" font-size="3.7" text-anchor="middle" fill="#444">12,500</text>
<line x1="106.54" y1="258.7" x2="106.54" y2="260" stroke="#555" stroke-width="0.5"/>
<text transform="translate(106.54 262.93) scale(0.9 1)" font-size="3.7" text-anchor="middle" fill="#444">15,000</text>
<text transform="translate(119.38 262.93) scale(0.9 1)" font-size="3.7" text-anchor="middle" fill="#444">17,500</text>
<text x="75.5" y="270.92" font-size="7" text-anchor="middle" fill="#222" textLength="45.5" lengthAdjust="spacingAndGlyphs">Rank in ordered dataset</text>
<line x1="30.6" y1="276.4" x2="33.8" y2="276.4" stroke="#6cbb3a" stroke-width="0.8"/>
<text x="35.9" y="277.7" font-size="3.6" text-anchor="start" fill="#444" textLength="21" lengthAdjust="spacingAndGlyphs">Enrichment profile</text>
<line x1="60.6" y1="276.4" x2="63.4" y2="276.4" stroke="#222" stroke-width="0.9"/>
<text x="64.4" y="277.7" font-size="3.6" text-anchor="start" fill="#444" textLength="5.3" lengthAdjust="spacingAndGlyphs">Hits</text>
<line x1="74" y1="276.4" x2="79.2" y2="276.4" stroke="#b0b0b0" stroke-width="0.8"/>
<text x="81.3" y="277.7" font-size="3.6" text-anchor="start" fill="#444" textLength="38" lengthAdjust="spacingAndGlyphs">Ranking metric scores</text>
<text x="34.6" y="197.58" font-size="6.6" text-anchor="start" fill="#222" textLength="23.5" lengthAdjust="spacingAndGlyphs">NES -1.419</text>
<text x="34.6" y="203.88" font-size="6.6" text-anchor="start" fill="#222" textLength="22.8" lengthAdjust="spacingAndGlyphs">FDR 0.041</text>
<text transform="rotate(-90 15.7 192.75)" x="15.7" y="194.48" font-size="4.8" text-anchor="middle" fill="#444" textLength="40.5" lengthAdjust="spacingAndGlyphs">Enrichment score (ES)</text>
<text transform="rotate(-90 9.4 243.25)" x="9.4" y="244.98" font-size="4.8" text-anchor="middle" fill="#444" textLength="32.5" lengthAdjust="spacingAndGlyphs">Ranked list metric</text>
<text transform="rotate(-90 16.5 243.25)" x="16.5" y="244.98" font-size="4.8" text-anchor="middle" fill="#444" textLength="27.5" lengthAdjust="spacingAndGlyphs">(Signal2Noise)</text>
<text x="76.35" y="289.36" font-size="6" text-anchor="middle" font-weight="bold" fill="#111" textLength="41.7" lengthAdjust="spacingAndGlyphs">Enrichment plot:</text>
<text x="76.05" y="295.71" font-size="6" text-anchor="middle" font-weight="bold" fill="#111" textLength="88.9" lengthAdjust="spacingAndGlyphs">REACTOME_SIGNALING_BY_WNT</text>
<rect x="30.2" y="299.2" width="88.2" height="86.3" fill="none" stroke="#6e6e6e" stroke-width="0.7"/>
<line x1="30.2" y1="339.8" x2="118.4" y2="339.8" stroke="#8a8a8a" stroke-width="0.6"/>
<line x1="30.2" y1="356.9" x2="118.4" y2="356.9" stroke="#9a9a9a" stroke-width="0.5"/>
<line x1="30.2" y1="304.4" x2="118.4" y2="304.4" stroke="#c4c4c4" stroke-width="0.6"/>
<line x1="28.7" y1="304.4" x2="30.2" y2="304.4" stroke="#555" stroke-width="0.5"/>
<text transform="translate(27.6 305.7) scale(0.9 1)" font-size="3.6" text-anchor="end" fill="#444">0.0</text>
<line x1="28.7" y1="310.03" x2="30.2" y2="310.03" stroke="#555" stroke-width="0.5"/>
<text transform="translate(27.6 311.33) scale(0.9 1)" font-size="3.6" text-anchor="end" fill="#444">-0.1</text>
<line x1="28.7" y1="315.66" x2="30.2" y2="315.66" stroke="#555" stroke-width="0.5"/>
<text transform="translate(27.6 316.95) scale(0.9 1)" font-size="3.6" text-anchor="end" fill="#444">-0.2</text>
<line x1="28.7" y1="321.29" x2="30.2" y2="321.29" stroke="#555" stroke-width="0.5"/>
<text transform="translate(27.6 322.58) scale(0.9 1)" font-size="3.6" text-anchor="end" fill="#444">-0.3</text>
<line x1="28.7" y1="326.92" x2="30.2" y2="326.92" stroke="#555" stroke-width="0.5"/>
<text transform="translate(27.6 328.21) scale(0.9 1)" font-size="3.6" text-anchor="end" fill="#444">-0.4</text>
<line x1="28.7" y1="332.55" x2="30.2" y2="332.55" stroke="#555" stroke-width="0.5"/>
<text transform="translate(27.6 333.84) scale(0.9 1)" font-size="3.6" text-anchor="end" fill="#444">-0.5</text>
<line x1="28.7" y1="338.17" x2="30.2" y2="338.17" stroke="#555" stroke-width="0.5"/>
<text transform="translate(27.6 339.47) scale(0.9 1)" font-size="3.6" text-anchor="end" fill="#444">-0.6</text>
<path d="M30.2 304.4 L35 307 L39 309.7 L40.1 309.3 L41.2 310.8 L53.8 318.2 L68.7 326.7 L83.5 336.2 L87.7 337.9 L94 337.7 L97.2 335.1 L99.3 333.4 L100.4 328.8 L102.5 325.6 L104.6 317.1 L105.7 315 L106.7 309.7 L108.4 304.4 L109.9 305 L111.4 303.4 L112.7 301.3 L114.1 302.3 L118.3 304.4" fill="none" stroke="#6cbb3a" stroke-width="0.95" stroke-linejoin="round"/>
<line x1="39.1" y1="339.8" x2="39.1" y2="353.75" stroke="#8c8c8c" stroke-width="0.85"/>
<line x1="53.4" y1="339.8" x2="53.4" y2="353.75" stroke="#8c8c8c" stroke-width="0.85"/>
<line x1="61.7" y1="339.8" x2="61.7" y2="353.75" stroke="#8c8c8c" stroke-width="0.85"/>
<line x1="67.7" y1="339.8" x2="67.7" y2="353.75" stroke="#8c8c8c" stroke-width="0.85"/>
<line x1="70.5" y1="339.8" x2="70.5" y2="353.75" stroke="#8c8c8c" stroke-width="0.85"/>
<line x1="77.2" y1="339.8" x2="77.2" y2="353.75" stroke="#8c8c8c" stroke-width="0.85"/>
<line x1="78.2" y1="339.8" x2="78.2" y2="353.75" stroke="#8c8c8c" stroke-width="0.85"/>
<line x1="81.8" y1="339.8" x2="81.8" y2="353.75" stroke="#8c8c8c" stroke-width="0.85"/>
<line x1="82.8" y1="339.8" x2="82.8" y2="353.75" stroke="#505050" stroke-width="0.85"/>
<line x1="85.5" y1="339.8" x2="85.5" y2="353.75" stroke="#8c8c8c" stroke-width="0.85"/>
<line x1="88.3" y1="339.8" x2="88.3" y2="353.75" stroke="#8c8c8c" stroke-width="0.85"/>
<line x1="89.2" y1="339.8" x2="89.2" y2="353.75" stroke="#505050" stroke-width="0.85"/>
<line x1="91.1" y1="339.8" x2="91.1" y2="353.75" stroke="#505050" stroke-width="0.85"/>
<line x1="92.9" y1="339.8" x2="92.9" y2="353.75" stroke="#8c8c8c" stroke-width="0.85"/>
<line x1="95.7" y1="339.8" x2="95.7" y2="353.75" stroke="#8c8c8c" stroke-width="0.85"/>
<line x1="96.6" y1="339.8" x2="96.6" y2="353.75" stroke="#505050" stroke-width="0.85"/>
<line x1="99.9" y1="339.8" x2="99.9" y2="353.75" stroke="#8c8c8c" stroke-width="0.85"/>
<line x1="100.8" y1="339.8" x2="100.8" y2="353.75" stroke="#8c8c8c" stroke-width="0.85"/>
<line x1="102.6" y1="339.8" x2="102.6" y2="353.75" stroke="#505050" stroke-width="0.85"/>
<line x1="105.4" y1="339.8" x2="105.4" y2="353.75" stroke="#8c8c8c" stroke-width="0.85"/>
<line x1="106.8" y1="339.8" x2="106.8" y2="353.75" stroke="#505050" stroke-width="0.85"/>
<line x1="110.9" y1="339.8" x2="110.9" y2="353.75" stroke="#8c8c8c" stroke-width="0.85"/>
<line x1="111.9" y1="339.8" x2="111.9" y2="353.75" stroke="#8c8c8c" stroke-width="0.85"/>
<defs><linearGradient id="g299" x1="0" x2="1"><stop offset="0" stop-color="#d6434d"/><stop offset="0.15" stop-color="#d84c56"/><stop offset="0.16" stop-color="#d96170"/><stop offset="0.23" stop-color="#da6474"/><stop offset="0.24" stop-color="#dd7676"/><stop offset="0.378" stop-color="#df7d7d"/><stop offset="0.38" stop-color="#e6a4c8"/><stop offset="0.563" stop-color="#e2b0d4"/><stop offset="0.565" stop-color="#d9d4ee"/><stop offset="0.772" stop-color="#b8b6e2"/><stop offset="0.774" stop-color="#5a5aae"/><stop offset="0.88" stop-color="#3c3c9c"/><stop offset="1" stop-color="#2a2a8e"/></linearGradient></defs>
<rect x="30.2" y="353.75" width="88.2" height="3.15" fill="url(#g299)"/>
<line x1="28.7" y1="357.3" x2="30.2" y2="357.3" stroke="#555" stroke-width="0.5"/>
<text transform="translate(27.6 358.6) scale(0.9 1)" font-size="3.6" text-anchor="end" fill="#444">2.0</text>
<line x1="28.7" y1="361.17" x2="30.2" y2="361.17" stroke="#555" stroke-width="0.5"/>
<text transform="translate(27.6 362.47) scale(0.9 1)" font-size="3.6" text-anchor="end" fill="#444">1.5</text>
<line x1="28.7" y1="365.04" x2="30.2" y2="365.04" stroke="#555" stroke-width="0.5"/>
<text transform="translate(27.6 366.34) scale(0.9 1)" font-size="3.6" text-anchor="end" fill="#444">1.0</text>
<line x1="28.7" y1="368.91" x2="30.2" y2="368.91" stroke="#555" stroke-width="0.5"/>
<text transform="translate(27.6 370.21) scale(0.9 1)" font-size="3.6" text-anchor="end" fill="#444">0.5</text>
<line x1="28.7" y1="372.79" x2="30.2" y2="372.79" stroke="#555" stroke-width="0.5"/>
<text transform="translate(27.6 374.08) scale(0.9 1)" font-size="3.6" text-anchor="end" fill="#444">0.0</text>
<line x1="28.7" y1="376.66" x2="30.2" y2="376.66" stroke="#555" stroke-width="0.5"/>
<text transform="translate(27.6 377.95) scale(0.9 1)" font-size="3.6" text-anchor="end" fill="#444">-0.5</text>
<line x1="28.7" y1="380.53" x2="30.2" y2="380.53" stroke="#555" stroke-width="0.5"/>
<text transform="translate(27.6 381.82) scale(0.9 1)" font-size="3.6" text-anchor="end" fill="#444">-1.0</text>
<line x1="28.7" y1="384.4" x2="30.2" y2="384.4" stroke="#555" stroke-width="0.5"/>
<text transform="translate(27.6 385.7) scale(0.9 1)" font-size="3.6" text-anchor="end" fill="#444">-1.5</text>
<path d="M30.2 369.6 L31.5 370.5 L34 371.4 L40 372.1 L55 372.6 L80 372.9 L100 373.2 L110 374 L114 375.5 L116.5 378 L118.1 381.2 L118.1 372.8 L30.2 372.8Z" fill="#cfd2da" stroke="#8d939f" stroke-width="0.45" stroke-linejoin="round"/>
<line x1="30.2" y1="372.8" x2="118.4" y2="372.8" stroke="#999" stroke-width="0.35"/>
<text x="31" y="359.1" font-size="2.5" text-anchor="start" fill="#e07070" textLength="20.7" lengthAdjust="spacingAndGlyphs">positively correlated</text>
<text x="76" y="383.2" font-size="2.5" text-anchor="start" fill="#6670d0" textLength="24" lengthAdjust="spacingAndGlyphs">negatively correlated</text>
<text x="35.9" y="365.39" font-size="5.8" text-anchor="start" fill="#333" textLength="17.5" lengthAdjust="spacingAndGlyphs">PKH26<tspan font-size="3.8" dy="-2.2">hi</tspan></text>
<text x="93" y="365.39" font-size="5.8" text-anchor="start" fill="#333" textLength="20.5" lengthAdjust="spacingAndGlyphs">PKH26<tspan font-size="3.8" dy="-2.2">low</tspan></text>
<text x="79.2" y="371.94" font-size="2.6" text-anchor="middle" fill="#333" textLength="14.5" lengthAdjust="spacingAndGlyphs">Zero cross at 9300</text>
<line x1="30.6" y1="385.5" x2="30.6" y2="386.8" stroke="#555" stroke-width="0.5"/>
<text transform="translate(30.6 390.63) scale(0.9 1)" font-size="3.7" text-anchor="middle" fill="#444">0</text>
<line x1="43.74" y1="385.5" x2="43.74" y2="386.8" stroke="#555" stroke-width="0.5"/>
<text transform="translate(43.74 390.63) scale(0.9 1)" font-size="3.7" text-anchor="middle" fill="#444">2,500</text>
<line x1="56.88" y1="385.5" x2="56.88" y2="386.8" stroke="#555" stroke-width="0.5"/>
<text transform="translate(56.88 390.63) scale(0.9 1)" font-size="3.7" text-anchor="middle" fill="#444">5,000</text>
<line x1="70.02" y1="385.5" x2="70.02" y2="386.8" stroke="#555" stroke-width="0.5"/>
<text transform="translate(70.02 390.63) scale(0.9 1)" font-size="3.7" text-anchor="middle" fill="#444">7,500</text>
<line x1="83.16" y1="385.5" x2="83.16" y2="386.8" stroke="#555" stroke-width="0.5"/>
<text transform="translate(83.16 390.63) scale(0.9 1)" font-size="3.7" text-anchor="middle" fill="#444">10,000</text>
<line x1="96.3" y1="385.5" x2="96.3" y2="386.8" stroke="#555" stroke-width="0.5"/>
<text transform="translate(96.3 390.63) scale(0.9 1)" font-size="3.7" text-anchor="middle" fill="#444">12,500</text>
<line x1="109.44" y1="385.5" x2="109.44" y2="386.8" stroke="#555" stroke-width="0.5"/>
<text transform="translate(109.44 390.63) scale(0.9 1)" font-size="3.7" text-anchor="middle" fill="#444">15,000</text>
<text transform="translate(122.58 390.63) scale(0.9 1)" font-size="3.7" text-anchor="middle" fill="#444">17,500</text>
<text x="76.8" y="397.92" font-size="7" text-anchor="middle" fill="#222" textLength="43.8" lengthAdjust="spacingAndGlyphs">Rank in ordered dataset</text>
<line x1="30.6" y1="403" x2="33.8" y2="403" stroke="#6cbb3a" stroke-width="0.8"/>
<text x="35.9" y="404.3" font-size="3.6" text-anchor="start" fill="#444" textLength="21" lengthAdjust="spacingAndGlyphs">Enrichment profile</text>
<line x1="60.6" y1="403" x2="63.4" y2="403" stroke="#222" stroke-width="0.9"/>
<text x="64.4" y="404.3" font-size="3.6" text-anchor="start" fill="#444" textLength="5.3" lengthAdjust="spacingAndGlyphs">Hits</text>
<line x1="74" y1="403" x2="79.2" y2="403" stroke="#b0b0b0" stroke-width="0.8"/>
<text x="81.3" y="404.3" font-size="3.6" text-anchor="start" fill="#444" textLength="38" lengthAdjust="spacingAndGlyphs">Ranking metric scores</text>
<text x="34.6" y="328.58" font-size="6.6" text-anchor="start" fill="#222" textLength="23.5" lengthAdjust="spacingAndGlyphs">NES -1.836</text>
<text x="34.6" y="334.88" font-size="6.6" text-anchor="start" fill="#222" textLength="22.8" lengthAdjust="spacingAndGlyphs">FDR 0.002</text>
<text transform="rotate(-90 16.5 322.3)" x="16.5" y="324.03" font-size="4.8" text-anchor="middle" fill="#444" textLength="41" lengthAdjust="spacingAndGlyphs">Enrichment score (ES)</text>
<text transform="rotate(-90 9.8 370.3)" x="9.8" y="372.03" font-size="4.8" text-anchor="middle" fill="#444" textLength="34.6" lengthAdjust="spacingAndGlyphs">Ranked list metric</text>
<text transform="rotate(-90 17 370.3)" x="17" y="372.03" font-size="4.8" text-anchor="middle" fill="#444" textLength="29.6" lengthAdjust="spacingAndGlyphs">(Signal2Noise)</text>
<text x="163.9" y="160.9" font-size="11.8" font-weight="bold" fill="#000" stroke="#000" stroke-width="0.35" textLength="9" lengthAdjust="spacingAndGlyphs">C</text>
<line x1="192.8" y1="167.6" x2="192.8" y2="233.1" stroke="#231f20" stroke-width="1.4"/>
<line x1="192.1" y1="232.4" x2="286.7" y2="232.4" stroke="#231f20" stroke-width="1.4"/>
<line x1="189.4" y1="232.4" x2="192.8" y2="232.4" stroke="#231f20" stroke-width="1"/>
<text transform="translate(187.8 234.85) scale(0.88 1)" font-size="6.8" text-anchor="end" stroke="#231f20" stroke-width="0.22">0</text>
<line x1="189.4" y1="220" x2="192.8" y2="220" stroke="#231f20" stroke-width="1"/>
<text transform="translate(187.8 222.45) scale(0.88 1)" font-size="6.8" text-anchor="end" stroke="#231f20" stroke-width="0.22">20</text>
<line x1="189.4" y1="207.6" x2="192.8" y2="207.6" stroke="#231f20" stroke-width="1"/>
<text transform="translate(187.8 210.05) scale(0.88 1)" font-size="6.8" text-anchor="end" stroke="#231f20" stroke-width="0.22">40</text>
<line x1="189.4" y1="195.2" x2="192.8" y2="195.2" stroke="#231f20" stroke-width="1"/>
<text transform="translate(187.8 197.65) scale(0.88 1)" font-size="6.8" text-anchor="end" stroke="#231f20" stroke-width="0.22">60</text>
<line x1="189.4" y1="182.8" x2="192.8" y2="182.8" stroke="#231f20" stroke-width="1"/>
<text transform="translate(187.8 185.25) scale(0.88 1)" font-size="6.8" text-anchor="end" stroke="#231f20" stroke-width="0.22">80</text>
<line x1="189.4" y1="170.4" x2="192.8" y2="170.4" stroke="#231f20" stroke-width="1"/>
<text transform="translate(187.8 172.85) scale(0.88 1)" font-size="6.8" text-anchor="end" stroke="#231f20" stroke-width="0.22">100</text>
<rect x="202.5" y="200.16" width="10.2" height="32.24" fill="#8f98be" stroke="#7f88b0" stroke-width="0.7"/>
<rect x="219.4" y="203.26" width="11.3" height="29.14" fill="#cb8b7f" stroke="#c27a6c" stroke-width="0.7"/>
<rect x="249" y="222.48" width="10.8" height="9.92" fill="#8f98be" stroke="#7f88b0" stroke-width="0.7"/>
<rect x="266.5" y="180.32" width="10.8" height="52.08" fill="#cb8b7f" stroke="#c27a6c" stroke-width="0.7"/>
<line x1="207.6" y1="198.92" x2="207.6" y2="201.4" stroke="#1f3c84" stroke-width="1"/>
<line x1="204.74" y1="198.92" x2="210.46" y2="198.92" stroke="#1f3c84" stroke-width="1"/>
<line x1="204.74" y1="201.4" x2="210.46" y2="201.4" stroke="#1f3c84" stroke-width="1"/>
<circle cx="207.6" cy="198.3" r="1.45" fill="#1f3c84"/>
<circle cx="209.23" cy="199.54" r="1.45" fill="#1f3c84"/>
<circle cx="205.97" cy="201.4" r="1.45" fill="#1f3c84"/>
<line x1="225.05" y1="202.02" x2="225.05" y2="204.5" stroke="#bd1740" stroke-width="1"/>
<line x1="221.89" y1="202.02" x2="228.21" y2="202.02" stroke="#bd1740" stroke-width="1"/>
<line x1="221.89" y1="204.5" x2="228.21" y2="204.5" stroke="#bd1740" stroke-width="1"/>
<path d="M225.05 200.47L226.6 203.26L223.5 203.26Z" fill="#bd1740"/>
<path d="M226.86 201.71L228.41 204.5L225.31 204.5Z" fill="#bd1740"/>
<path d="M223.24 202.95L224.79 205.74L221.69 205.74Z" fill="#bd1740"/>
<line x1="254.4" y1="220" x2="254.4" y2="224.96" stroke="#1f3c84" stroke-width="1"/>
<line x1="251.38" y1="220" x2="257.42" y2="220" stroke="#1f3c84" stroke-width="1"/>
<line x1="251.38" y1="224.96" x2="257.42" y2="224.96" stroke="#1f3c84" stroke-width="1"/>
<circle cx="254.4" cy="219.38" r="1.45" fill="#1f3c84"/>
<circle cx="256.13" cy="221.86" r="1.45" fill="#1f3c84"/>
<circle cx="252.67" cy="224.96" r="1.45" fill="#1f3c84"/>
<line x1="271.9" y1="178.46" x2="271.9" y2="182.18" stroke="#bd1740" stroke-width="1"/>
<line x1="268.88" y1="178.46" x2="274.92" y2="178.46" stroke="#bd1740" stroke-width="1"/>
<line x1="268.88" y1="182.18" x2="274.92" y2="182.18" stroke="#bd1740" stroke-width="1"/>
<path d="M271.9 176.91L273.45 179.7L270.35 179.7Z" fill="#bd1740"/>
<path d="M273.63 178.77L275.18 181.56L272.08 181.56Z" fill="#bd1740"/>
<path d="M270.17 181.25L271.72 184.04L268.62 184.04Z" fill="#bd1740"/>
<line x1="207.9" y1="192.5" x2="224.8" y2="192.5" stroke="#333" stroke-width="1.1"/>
<text x="216.35" y="191.3" font-size="6.8" text-anchor="middle" stroke="#333" stroke-width="0.2" fill="#333" textLength="5.6" lengthAdjust="spacingAndGlyphs">ns</text>
<line x1="254.4" y1="172.3" x2="272" y2="172.3" stroke="#333" stroke-width="1.1"/>
<text x="263.2" y="171.7" font-size="6.4" text-anchor="middle" stroke="#231f20" stroke-width="0.15">****</text>
<line x1="216.2" y1="232.4" x2="216.2" y2="235" stroke="#231f20" stroke-width="0.9"/>
<line x1="262.5" y1="232.4" x2="262.5" y2="235" stroke="#231f20" stroke-width="0.9"/>
<text x="216.2" y="244.02" font-size="7" text-anchor="middle">No treatment</text>
<text x="262.5" y="244.02" font-size="7" text-anchor="middle">4-OHT</text>
<circle cx="203.8" cy="170.2" r="1.2" fill="#1f3c84"/>
<text x="208" y="172.47" font-size="6.3" text-anchor="start" fill="#333" textLength="12.8" lengthAdjust="spacingAndGlyphs">GFP-</text>
<path d="M203.8 177.7L205.1 180.04L202.5 180.04Z" fill="#bd1740"/>
<text x="208" y="181.27" font-size="6.3" text-anchor="start" fill="#333" textLength="14" lengthAdjust="spacingAndGlyphs">GFP+</text>
<text transform="rotate(-90 167.9 199.9)" x="167.9" y="202.85" font-size="8.2" text-anchor="middle" textLength="43.8" lengthAdjust="spacingAndGlyphs" stroke="#231f20" stroke-width="0.18">% of total cells</text>
<line x1="323.9" y1="167.6" x2="323.9" y2="233.1" stroke="#231f20" stroke-width="1.4"/>
<line x1="323.2" y1="232.4" x2="417.5" y2="232.4" stroke="#231f20" stroke-width="1.4"/>
<line x1="320.5" y1="232.4" x2="323.9" y2="232.4" stroke="#231f20" stroke-width="1"/>
<text transform="translate(318.9 234.85) scale(0.88 1)" font-size="6.8" text-anchor="end" stroke="#231f20" stroke-width="0.22">0</text>
<line x1="320.5" y1="216.9" x2="323.9" y2="216.9" stroke="#231f20" stroke-width="1"/>
<text transform="translate(318.9 219.35) scale(0.88 1)" font-size="6.8" text-anchor="end" stroke="#231f20" stroke-width="0.22">20</text>
<line x1="320.5" y1="201.4" x2="323.9" y2="201.4" stroke="#231f20" stroke-width="1"/>
<text transform="translate(318.9 203.85) scale(0.88 1)" font-size="6.8" text-anchor="end" stroke="#231f20" stroke-width="0.22">40</text>
<line x1="320.5" y1="185.9" x2="323.9" y2="185.9" stroke="#231f20" stroke-width="1"/>
<text transform="translate(318.9 188.35) scale(0.88 1)" font-size="6.8" text-anchor="end" stroke="#231f20" stroke-width="0.22">60</text>
<line x1="320.5" y1="170.4" x2="323.9" y2="170.4" stroke="#231f20" stroke-width="1"/>
<text transform="translate(318.9 172.85) scale(0.88 1)" font-size="6.8" text-anchor="end" stroke="#231f20" stroke-width="0.22">80</text>
<rect x="333.3" y="220.78" width="10.7" height="11.62" fill="#8f98be" stroke="#7f88b0" stroke-width="0.7"/>
<rect x="350.8" y="223.1" width="10.7" height="9.3" fill="#cb8b7f" stroke="#c27a6c" stroke-width="0.7"/>
<rect x="379.9" y="223.88" width="10.7" height="8.53" fill="#8f98be" stroke="#7f88b0" stroke-width="0.7"/>
<rect x="397.4" y="184.35" width="10.7" height="48.05" fill="#cb8b7f" stroke="#c27a6c" stroke-width="0.7"/>
<line x1="338.65" y1="220" x2="338.65" y2="221.55" stroke="#1f3c84" stroke-width="1"/>
<line x1="335.65" y1="220" x2="341.65" y2="220" stroke="#1f3c84" stroke-width="1"/>
<line x1="335.65" y1="221.55" x2="341.65" y2="221.55" stroke="#1f3c84" stroke-width="1"/>
<circle cx="338.65" cy="220" r="1.45" fill="#1f3c84"/>
<circle cx="340.36" cy="220.78" r="1.45" fill="#1f3c84"/>
<circle cx="336.94" cy="221.55" r="1.45" fill="#1f3c84"/>
<line x1="356.15" y1="222.33" x2="356.15" y2="223.88" stroke="#bd1740" stroke-width="1"/>
<line x1="353.15" y1="222.33" x2="359.15" y2="222.33" stroke="#bd1740" stroke-width="1"/>
<line x1="353.15" y1="223.88" x2="359.15" y2="223.88" stroke="#bd1740" stroke-width="1"/>
<path d="M356.15 221.16L357.7 223.95L354.6 223.95Z" fill="#bd1740"/>
<path d="M357.86 221.55L359.41 224.34L356.31 224.34Z" fill="#bd1740"/>
<path d="M354.44 221.94L355.99 224.73L352.89 224.73Z" fill="#bd1740"/>
<line x1="385.25" y1="222.33" x2="385.25" y2="225.43" stroke="#1f3c84" stroke-width="1"/>
<line x1="382.25" y1="222.33" x2="388.25" y2="222.33" stroke="#1f3c84" stroke-width="1"/>
<line x1="382.25" y1="225.43" x2="388.25" y2="225.43" stroke="#1f3c84" stroke-width="1"/>
<circle cx="385.25" cy="221.55" r="1.45" fill="#1f3c84"/>
<circle cx="386.96" cy="223.88" r="1.45" fill="#1f3c84"/>
<circle cx="383.54" cy="225.43" r="1.45" fill="#1f3c84"/>
<line x1="402.75" y1="179.7" x2="402.75" y2="189" stroke="#bd1740" stroke-width="1"/>
<line x1="399.75" y1="179.7" x2="405.75" y2="179.7" stroke="#bd1740" stroke-width="1"/>
<line x1="399.75" y1="189" x2="405.75" y2="189" stroke="#bd1740" stroke-width="1"/>
<path d="M402.75 176.6L404.3 179.39L401.2 179.39Z" fill="#bd1740"/>
<path d="M404.46 182.8L406.01 185.59L402.91 185.59Z" fill="#bd1740"/>
<path d="M401.04 190.55L402.59 193.34L399.49 193.34Z" fill="#bd1740"/>
<line x1="339.5" y1="211.3" x2="355.6" y2="211.3" stroke="#333" stroke-width="1.1"/>
<text x="347.55" y="210.1" font-size="6.8" text-anchor="middle" stroke="#333" stroke-width="0.2" fill="#333" textLength="5.6" lengthAdjust="spacingAndGlyphs">ns</text>
<line x1="386.3" y1="172.3" x2="402.5" y2="172.3" stroke="#333" stroke-width="1.1"/>
<text x="394.4" y="171.7" font-size="6.4" text-anchor="middle" stroke="#231f20" stroke-width="0.15">***</text>
<line x1="347.3" y1="232.4" x2="347.3" y2="235" stroke="#231f20" stroke-width="0.9"/>
<line x1="393.3" y1="232.4" x2="393.3" y2="235" stroke="#231f20" stroke-width="0.9"/>
<text x="347.3" y="244.02" font-size="7" text-anchor="middle">No treatment</text>
<text x="393.3" y="244.02" font-size="7" text-anchor="middle">4-OHT</text>
<circle cx="334.6" cy="170.2" r="1.2" fill="#1f3c84"/>
<text x="338.8" y="172.47" font-size="6.3" text-anchor="start" fill="#333" textLength="12.8" lengthAdjust="spacingAndGlyphs">GFP-</text>
<path d="M334.6 177.7L335.9 180.04L333.3 180.04Z" fill="#bd1740"/>
<text x="338.8" y="181.27" font-size="6.3" text-anchor="start" fill="#333" textLength="14" lengthAdjust="spacingAndGlyphs">GFP+</text>
<text transform="rotate(-90 302.2 199.3)" x="302.2" y="202.32" font-size="8.4" text-anchor="middle" textLength="58.2" lengthAdjust="spacingAndGlyphs" stroke="#231f20" stroke-width="0.18">Cell number (x10<tspan font-size="5.4" dy="-2.8">6</tspan><tspan dy="2.8">)</tspan></text>
<text x="165.1" y="269.7" font-size="11.8" font-weight="bold" fill="#000" stroke="#000" stroke-width="0.35" textLength="9.5" lengthAdjust="spacingAndGlyphs">D</text>
<line x1="192.8" y1="276" x2="192.8" y2="341.5" stroke="#231f20" stroke-width="1.4"/>
<line x1="192.1" y1="340.8" x2="286.7" y2="340.8" stroke="#231f20" stroke-width="1.4"/>
<line x1="189.4" y1="340.8" x2="192.8" y2="340.8" stroke="#231f20" stroke-width="1"/>
<text transform="translate(187.8 343.25) scale(0.88 1)" font-size="6.8" text-anchor="end" stroke="#231f20" stroke-width="0.22">0</text>
<line x1="189.4" y1="325.3" x2="192.8" y2="325.3" stroke="#231f20" stroke-width="1"/>
<text transform="translate(187.8 327.75) scale(0.88 1)" font-size="6.8" text-anchor="end" stroke="#231f20" stroke-width="0.22">5</text>
<line x1="189.4" y1="309.8" x2="192.8" y2="309.8" stroke="#231f20" stroke-width="1"/>
<text transform="translate(187.8 312.25) scale(0.88 1)" font-size="6.8" text-anchor="end" stroke="#231f20" stroke-width="0.22">10</text>
<line x1="189.4" y1="294.3" x2="192.8" y2="294.3" stroke="#231f20" stroke-width="1"/>
<text transform="translate(187.8 296.75) scale(0.88 1)" font-size="6.8" text-anchor="end" stroke="#231f20" stroke-width="0.22">15</text>
<line x1="189.4" y1="278.8" x2="192.8" y2="278.8" stroke="#231f20" stroke-width="1"/>
<text transform="translate(187.8 281.25) scale(0.88 1)" font-size="6.8" text-anchor="end" stroke="#231f20" stroke-width="0.22">20</text>
<rect x="202.5" y="322.2" width="10.7" height="18.6" fill="#8f98be" stroke="#7f88b0" stroke-width="0.7"/>
<rect x="219.7" y="322.2" width="11.3" height="18.6" fill="#cb8b7f" stroke="#c27a6c" stroke-width="0.7"/>
<rect x="249" y="333.67" width="10.8" height="7.13" fill="#8f98be" stroke="#7f88b0" stroke-width="0.7"/>
<rect x="266.5" y="301.12" width="10.8" height="39.68" fill="#cb8b7f" stroke="#c27a6c" stroke-width="0.7"/>
<line x1="207.85" y1="319.1" x2="207.85" y2="325.3" stroke="#1f3c84" stroke-width="1"/>
<line x1="204.85" y1="319.1" x2="210.85" y2="319.1" stroke="#1f3c84" stroke-width="1"/>
<line x1="204.85" y1="325.3" x2="210.85" y2="325.3" stroke="#1f3c84" stroke-width="1"/>
<circle cx="207.85" cy="318.48" r="1.45" fill="#1f3c84"/>
<circle cx="209.56" cy="319.1" r="1.45" fill="#1f3c84"/>
<circle cx="206.14" cy="326.85" r="1.45" fill="#1f3c84"/>
<line x1="225.35" y1="319.1" x2="225.35" y2="325.3" stroke="#bd1740" stroke-width="1"/>
<line x1="222.19" y1="319.1" x2="228.51" y2="319.1" stroke="#bd1740" stroke-width="1"/>
<line x1="222.19" y1="325.3" x2="228.51" y2="325.3" stroke="#bd1740" stroke-width="1"/>
<path d="M225.35 316L226.9 318.79L223.8 318.79Z" fill="#bd1740"/>
<path d="M227.16 320.65L228.71 323.44L225.61 323.44Z" fill="#bd1740"/>
<path d="M223.54 325.3L225.09 328.09L221.99 328.09Z" fill="#bd1740"/>
<line x1="254.4" y1="333.36" x2="254.4" y2="333.98" stroke="#1f3c84" stroke-width="1"/>
<line x1="251.38" y1="333.36" x2="257.42" y2="333.36" stroke="#1f3c84" stroke-width="1"/>
<line x1="251.38" y1="333.98" x2="257.42" y2="333.98" stroke="#1f3c84" stroke-width="1"/>
<circle cx="254.4" cy="333.67" r="1.45" fill="#1f3c84"/>
<circle cx="256.13" cy="333.67" r="1.45" fill="#1f3c84"/>
<circle cx="252.67" cy="333.67" r="1.45" fill="#1f3c84"/>
<line x1="271.9" y1="296.47" x2="271.9" y2="305.77" stroke="#bd1740" stroke-width="1"/>
<line x1="268.88" y1="296.47" x2="274.92" y2="296.47" stroke="#bd1740" stroke-width="1"/>
<line x1="268.88" y1="305.77" x2="274.92" y2="305.77" stroke="#bd1740" stroke-width="1"/>
<path d="M271.9 290.27L273.45 293.06L270.35 293.06Z" fill="#bd1740"/>
<path d="M273.63 298.95L275.18 301.74L272.08 301.74Z" fill="#bd1740"/>
<path d="M270.17 305.15L271.72 307.94L268.62 307.94Z" fill="#bd1740"/>
<line x1="207.9" y1="307.6" x2="224.8" y2="307.6" stroke="#333" stroke-width="1.1"/>
<text x="216.35" y="306.4" font-size="6.8" text-anchor="middle" stroke="#333" stroke-width="0.2" fill="#333" textLength="5.6" lengthAdjust="spacingAndGlyphs">ns</text>
<line x1="255" y1="283.4" x2="272" y2="283.4" stroke="#333" stroke-width="1.1"/>
<text x="263.5" y="282.8" font-size="6.4" text-anchor="middle" stroke="#231f20" stroke-width="0.15">**</text>
<line x1="216.2" y1="340.8" x2="216.2" y2="343.4" stroke="#231f20" stroke-width="0.9"/>
<line x1="262.5" y1="340.8" x2="262.5" y2="343.4" stroke="#231f20" stroke-width="0.9"/>
<text x="216.5" y="352.22" font-size="7" text-anchor="middle" fill="#333" textLength="41.3" lengthAdjust="spacingAndGlyphs">CD34+CD133</text>
<text x="216.2" y="359.72" font-size="7" text-anchor="middle">+KS</text>
<text x="262.8" y="352.22" font-size="7" text-anchor="middle" fill="#333" textLength="39.5" lengthAdjust="spacingAndGlyphs">CD34-CD133</text>
<text x="262.5" y="359.72" font-size="7" text-anchor="middle">-KS</text>
<circle cx="203.8" cy="278.8" r="1.2" fill="#1f3c84"/>
<text x="208" y="281.07" font-size="6.3" text-anchor="start" fill="#333" textLength="12.8" lengthAdjust="spacingAndGlyphs">GFP-</text>
<path d="M203.8 286.2L205.1 288.54L202.5 288.54Z" fill="#bd1740"/>
<text x="208" y="289.77" font-size="6.3" text-anchor="start" fill="#333" textLength="14" lengthAdjust="spacingAndGlyphs">GFP+</text>
<text transform="rotate(-90 167.9 308)" x="167.9" y="310.95" font-size="8.2" text-anchor="middle" textLength="43.8" lengthAdjust="spacingAndGlyphs" stroke="#231f20" stroke-width="0.18">% of total cells</text>
<line x1="323.9" y1="276" x2="323.9" y2="341.5" stroke="#231f20" stroke-width="1.4"/>
<line x1="323.2" y1="340.8" x2="417.5" y2="340.8" stroke="#231f20" stroke-width="1.4"/>
<line x1="320.5" y1="340.8" x2="323.9" y2="340.8" stroke="#231f20" stroke-width="1"/>
<text transform="translate(318.9 343.25) scale(0.88 1)" font-size="6.8" text-anchor="end" stroke="#231f20" stroke-width="0.22">0</text>
<line x1="320.5" y1="328.4" x2="323.9" y2="328.4" stroke="#231f20" stroke-width="1"/>
<text transform="translate(318.9 330.85) scale(0.88 1)" font-size="6.8" text-anchor="end" stroke="#231f20" stroke-width="0.22">2</text>
<line x1="320.5" y1="316" x2="323.9" y2="316" stroke="#231f20" stroke-width="1"/>
<text transform="translate(318.9 318.45) scale(0.88 1)" font-size="6.8" text-anchor="end" stroke="#231f20" stroke-width="0.22">4</text>
<line x1="320.5" y1="303.6" x2="323.9" y2="303.6" stroke="#231f20" stroke-width="1"/>
<text transform="translate(318.9 306.05) scale(0.88 1)" font-size="6.8" text-anchor="end" stroke="#231f20" stroke-width="0.22">6</text>
<line x1="320.5" y1="291.2" x2="323.9" y2="291.2" stroke="#231f20" stroke-width="1"/>
<text transform="translate(318.9 293.65) scale(0.88 1)" font-size="6.8" text-anchor="end" stroke="#231f20" stroke-width="0.22">8</text>
<line x1="320.5" y1="278.8" x2="323.9" y2="278.8" stroke="#231f20" stroke-width="1"/>
<text transform="translate(318.9 281.25) scale(0.88 1)" font-size="6.8" text-anchor="end" stroke="#231f20" stroke-width="0.22">10</text>
<rect x="333.3" y="337.08" width="10.7" height="3.72" fill="#8f98be" stroke="#7f88b0" stroke-width="0.7"/>
<rect x="350.8" y="317.86" width="10.7" height="22.94" fill="#cb8b7f" stroke="#c27a6c" stroke-width="0.7"/>
<rect x="379.9" y="339.56" width="10.7" height="1.24" fill="#8f98be" stroke="#7f88b0" stroke-width="0.7"/>
<rect x="397.4" y="293.06" width="10.7" height="47.74" fill="#cb8b7f" stroke="#c27a6c" stroke-width="0.7"/>
<line x1="338.65" y1="336.15" x2="338.65" y2="338.01" stroke="#1f3c84" stroke-width="1"/>
<line x1="335.65" y1="336.15" x2="341.65" y2="336.15" stroke="#1f3c84" stroke-width="1"/>
<line x1="335.65" y1="338.01" x2="341.65" y2="338.01" stroke="#1f3c84" stroke-width="1"/>
<circle cx="338.65" cy="335.22" r="1.45" fill="#1f3c84"/>
<circle cx="340.36" cy="337.08" r="1.45" fill="#1f3c84"/>
<circle cx="336.94" cy="338.32" r="1.45" fill="#1f3c84"/>
<line x1="356.15" y1="315.38" x2="356.15" y2="320.34" stroke="#bd1740" stroke-width="1"/>
<line x1="353.15" y1="315.38" x2="359.15" y2="315.38" stroke="#bd1740" stroke-width="1"/>
<line x1="353.15" y1="320.34" x2="359.15" y2="320.34" stroke="#bd1740" stroke-width="1"/>
<path d="M356.15 313.83L357.7 316.62L354.6 316.62Z" fill="#bd1740"/>
<path d="M357.86 315.69L359.41 318.48L356.31 318.48Z" fill="#bd1740"/>
<path d="M354.44 318.79L355.99 321.58L352.89 321.58Z" fill="#bd1740"/>
<line x1="385.25" y1="339.25" x2="385.25" y2="339.87" stroke="#1f3c84" stroke-width="1"/>
<line x1="382.25" y1="339.25" x2="388.25" y2="339.25" stroke="#1f3c84" stroke-width="1"/>
<line x1="382.25" y1="339.87" x2="388.25" y2="339.87" stroke="#1f3c84" stroke-width="1"/>
<circle cx="385.25" cy="339.56" r="1.45" fill="#1f3c84"/>
<circle cx="386.96" cy="339.56" r="1.45" fill="#1f3c84"/>
<circle cx="383.54" cy="339.56" r="1.45" fill="#1f3c84"/>
<line x1="402.75" y1="291.2" x2="402.75" y2="294.92" stroke="#bd1740" stroke-width="1"/>
<line x1="399.75" y1="291.2" x2="405.75" y2="291.2" stroke="#bd1740" stroke-width="1"/>
<line x1="399.75" y1="294.92" x2="405.75" y2="294.92" stroke="#bd1740" stroke-width="1"/>
<path d="M402.75 289.03L404.3 291.82L401.2 291.82Z" fill="#bd1740"/>
<path d="M404.46 290.89L406.01 293.68L402.91 293.68Z" fill="#bd1740"/>
<path d="M401.04 293.99L402.59 296.78L399.49 296.78Z" fill="#bd1740"/>
<line x1="339.5" y1="304.9" x2="355.6" y2="304.9" stroke="#333" stroke-width="1.1"/>
<text x="347.55" y="304.3" font-size="6.4" text-anchor="middle" stroke="#231f20" stroke-width="0.15">**</text>
<line x1="386.3" y1="280.7" x2="402.5" y2="280.7" stroke="#333" stroke-width="1.1"/>
<text x="394.4" y="280.1" font-size="6.4" text-anchor="middle" stroke="#231f20" stroke-width="0.15">****</text>
<line x1="347.3" y1="340.8" x2="347.3" y2="343.4" stroke="#231f20" stroke-width="0.9"/>
<line x1="393.3" y1="340.8" x2="393.3" y2="343.4" stroke="#231f20" stroke-width="0.9"/>
<text x="347.6" y="352.22" font-size="7" text-anchor="middle" fill="#333" textLength="41.3" lengthAdjust="spacingAndGlyphs">CD34+CD133</text>
<text x="347.3" y="359.72" font-size="7" text-anchor="middle">+KS</text>
<text x="393.6" y="352.22" font-size="7" text-anchor="middle" fill="#333" textLength="39.5" lengthAdjust="spacingAndGlyphs">CD34-CD133</text>
<text x="393.3" y="359.72" font-size="7" text-anchor="middle">-KS</text>
<circle cx="334.6" cy="278.8" r="1.2" fill="#1f3c84"/>
<text x="338.8" y="281.07" font-size="6.3" text-anchor="start" fill="#333" textLength="12.8" lengthAdjust="spacingAndGlyphs">GFP-</text>
<path d="M334.6 286.2L335.9 288.54L333.3 288.54Z" fill="#bd1740"/>
<text x="338.8" y="289.77" font-size="6.3" text-anchor="start" fill="#333" textLength="14" lengthAdjust="spacingAndGlyphs">GFP+</text>
<text transform="rotate(-90 302.2 308.1)" x="302.2" y="311.12" font-size="8.4" text-anchor="middle" textLength="58.2" lengthAdjust="spacingAndGlyphs" stroke="#231f20" stroke-width="0.18">Cell number (x10<tspan font-size="5.4" dy="-2.8">6</tspan><tspan dy="2.8">)</tspan></text>
<text x="427.8" y="208.75" font-size="11.8" font-weight="bold" fill="#000" stroke="#000" stroke-width="0.35" textLength="7.5" lengthAdjust="spacingAndGlyphs">E</text>
<line x1="457.8" y1="215.6" x2="457.8" y2="301.6" stroke="#231f20" stroke-width="1.4"/>
<line x1="457.1" y1="300.9" x2="498.1" y2="300.9" stroke="#231f20" stroke-width="1.4"/>
<line x1="454.4" y1="300.9" x2="457.8" y2="300.9" stroke="#231f20" stroke-width="1"/>
<text transform="translate(452.8 303.35) scale(0.88 1)" font-size="6.8" text-anchor="end" stroke="#231f20" stroke-width="0.22">0</text>
<line x1="454.4" y1="273.4" x2="457.8" y2="273.4" stroke="#231f20" stroke-width="1"/>
<text transform="translate(452.8 275.85) scale(0.88 1)" font-size="6.8" text-anchor="end" stroke="#231f20" stroke-width="0.22">100</text>
<line x1="454.4" y1="245.9" x2="457.8" y2="245.9" stroke="#231f20" stroke-width="1"/>
<text transform="translate(452.8 248.35) scale(0.88 1)" font-size="6.8" text-anchor="end" stroke="#231f20" stroke-width="0.22">200</text>
<line x1="454.4" y1="218.4" x2="457.8" y2="218.4" stroke="#231f20" stroke-width="1"/>
<text transform="translate(452.8 220.85) scale(0.88 1)" font-size="6.8" text-anchor="end" stroke="#231f20" stroke-width="0.22">300</text>
<rect x="461.1" y="294.85" width="13.2" height="6.05" fill="#8f98be" stroke="#7f88b0" stroke-width="0.7"/>
<rect x="481.6" y="245.9" width="13.5" height="55" fill="#cb8b7f" stroke="#c27a6c" stroke-width="0.7"/>
<line x1="467.7" y1="292.65" x2="467.7" y2="297.05" stroke="#1f3c84" stroke-width="1"/>
<line x1="464.3" y1="292.65" x2="471.1" y2="292.65" stroke="#1f3c84" stroke-width="1"/>
<line x1="464.3" y1="297.05" x2="471.1" y2="297.05" stroke="#1f3c84" stroke-width="1"/>
<circle cx="467.7" cy="289.9" r="1.45" fill="#1f3c84"/>
<circle cx="469.81" cy="295.95" r="1.45" fill="#1f3c84"/>
<circle cx="465.59" cy="298.15" r="1.45" fill="#1f3c84"/>
<line x1="488.35" y1="239.85" x2="488.35" y2="251.95" stroke="#bd1740" stroke-width="1"/>
<line x1="484.95" y1="239.85" x2="491.75" y2="239.85" stroke="#bd1740" stroke-width="1"/>
<line x1="484.95" y1="251.95" x2="491.75" y2="251.95" stroke="#bd1740" stroke-width="1"/>
<path d="M488.35 233.35L489.9 236.14L486.8 236.14Z" fill="#bd1740"/>
<path d="M490.51 245.72L492.06 248.51L488.96 248.51Z" fill="#bd1740"/>
<path d="M486.19 252.6L487.74 255.39L484.64 255.39Z" fill="#bd1740"/>
<line x1="468.4" y1="224.7" x2="490.4" y2="224.7" stroke="#333" stroke-width="1.1"/>
<text x="479.4" y="224.1" font-size="6.4" text-anchor="middle" stroke="#231f20" stroke-width="0.15">**</text>
<line x1="467.7" y1="300.9" x2="467.7" y2="303.4" stroke="#231f20" stroke-width="0.9"/>
<line x1="488.2" y1="300.9" x2="488.2" y2="303.4" stroke="#231f20" stroke-width="0.9"/>
<text x="467.7" y="312.38" font-size="6.6" text-anchor="middle">GFP-</text>
<text x="488.2" y="312.38" font-size="6.6" text-anchor="middle">GFP+</text>
<text transform="rotate(-90 432.6 257.3)" x="432.6" y="260.18" font-size="8" text-anchor="middle" textLength="59.5" lengthAdjust="spacingAndGlyphs" stroke="#231f20" stroke-width="0.18">BFU-Es / 1x10<tspan font-size="5.2" dy="-2.7">6</tspan><tspan dy="2.7"> cells</tspan></text>
<text x="8.3" y="430" font-size="11.8" font-weight="bold" fill="#000" stroke="#000" stroke-width="0.35" textLength="7.6" lengthAdjust="spacingAndGlyphs">F</text>
<line x1="38.8" y1="446.3" x2="38.8" y2="511.4" stroke="#231f20" stroke-width="1.4"/>
<line x1="38.1" y1="510.7" x2="162" y2="510.7" stroke="#231f20" stroke-width="1.4"/>
<line x1="35.4" y1="510.7" x2="38.8" y2="510.7" stroke="#231f20" stroke-width="1"/>
<text transform="translate(33.8 513.08) scale(0.88 1)" font-size="6.6" text-anchor="end" stroke="#231f20" stroke-width="0.22">0</text>
<line x1="35.4" y1="495.3" x2="38.8" y2="495.3" stroke="#231f20" stroke-width="1"/>
<text transform="translate(33.8 497.68) scale(0.88 1)" font-size="6.6" text-anchor="end" stroke="#231f20" stroke-width="0.22">50</text>
<line x1="35.4" y1="479.9" x2="38.8" y2="479.9" stroke="#231f20" stroke-width="1"/>
<text transform="translate(33.8 482.28) scale(0.88 1)" font-size="6.6" text-anchor="end" stroke="#231f20" stroke-width="0.22">100</text>
<line x1="35.4" y1="464.5" x2="38.8" y2="464.5" stroke="#231f20" stroke-width="1"/>
<text transform="translate(33.8 466.88) scale(0.88 1)" font-size="6.6" text-anchor="end" stroke="#231f20" stroke-width="0.22">150</text>
<line x1="35.4" y1="449.1" x2="38.8" y2="449.1" stroke="#231f20" stroke-width="1"/>
<text transform="translate(33.8 451.48) scale(0.88 1)" font-size="6.6" text-anchor="end" stroke="#231f20" stroke-width="0.22">200</text>
<rect x="42.6" y="502.38" width="6.6" height="8.32" fill="#8f98be" stroke="#7f88b0" stroke-width="0.7"/>
<rect x="51.9" y="502.69" width="6.3" height="8.01" fill="#cb8b7f" stroke="#c27a6c" stroke-width="0.7"/>
<rect x="67.5" y="486.06" width="6.2" height="24.64" fill="#8f98be" stroke="#7f88b0" stroke-width="0.7"/>
<rect x="76.8" y="499.92" width="6.2" height="10.78" fill="#cb8b7f" stroke="#c27a6c" stroke-width="0.7"/>
<rect x="91.7" y="478.36" width="6.3" height="32.34" fill="#8f98be" stroke="#7f88b0" stroke-width="0.7"/>
<rect x="101" y="494.38" width="6.3" height="16.32" fill="#cb8b7f" stroke="#c27a6c" stroke-width="0.7"/>
<rect x="116.6" y="461.42" width="6.3" height="49.28" fill="#8f98be" stroke="#7f88b0" stroke-width="0.7"/>
<rect x="126.3" y="493.14" width="5.9" height="17.56" fill="#cb8b7f" stroke="#c27a6c" stroke-width="0.7"/>
<rect x="141.2" y="473.12" width="6.6" height="37.58" fill="#8f98be" stroke="#7f88b0" stroke-width="0.7"/>
<rect x="150.6" y="491.6" width="6.2" height="19.1" fill="#cb8b7f" stroke="#c27a6c" stroke-width="0.7"/>
<line x1="45.9" y1="501.92" x2="45.9" y2="502.85" stroke="#1f3c84" stroke-width="1"/>
<line x1="44.05" y1="501.92" x2="47.75" y2="501.92" stroke="#1f3c84" stroke-width="1"/>
<line x1="44.05" y1="502.85" x2="47.75" y2="502.85" stroke="#1f3c84" stroke-width="1"/>
<circle cx="45.9" cy="502.08" r="1.45" fill="#1f3c84"/>
<circle cx="46.96" cy="502.38" r="1.45" fill="#1f3c84"/>
<circle cx="44.84" cy="502.69" r="1.45" fill="#1f3c84"/>
<line x1="55.05" y1="502.38" x2="55.05" y2="503" stroke="#bd1740" stroke-width="1"/>
<line x1="53.29" y1="502.38" x2="56.81" y2="502.38" stroke="#bd1740" stroke-width="1"/>
<line x1="53.29" y1="503" x2="56.81" y2="503" stroke="#bd1740" stroke-width="1"/>
<circle cx="55.05" cy="502.38" r="1.45" fill="#bd1740"/>
<circle cx="56.06" cy="502.69" r="1.45" fill="#bd1740"/>
<circle cx="54.04" cy="503" r="1.45" fill="#bd1740"/>
<line x1="70.6" y1="484.21" x2="70.6" y2="487.91" stroke="#1f3c84" stroke-width="1"/>
<line x1="68.86" y1="484.21" x2="72.34" y2="484.21" stroke="#1f3c84" stroke-width="1"/>
<line x1="68.86" y1="487.91" x2="72.34" y2="487.91" stroke="#1f3c84" stroke-width="1"/>
<circle cx="70.6" cy="482.36" r="1.45" fill="#1f3c84"/>
<circle cx="71.59" cy="486.06" r="1.45" fill="#1f3c84"/>
<circle cx="69.61" cy="488.52" r="1.45" fill="#1f3c84"/>
<line x1="79.9" y1="498.69" x2="79.9" y2="501.15" stroke="#bd1740" stroke-width="1"/>
<line x1="78.16" y1="498.69" x2="81.64" y2="498.69" stroke="#bd1740" stroke-width="1"/>
<line x1="78.16" y1="501.15" x2="81.64" y2="501.15" stroke="#bd1740" stroke-width="1"/>
<circle cx="79.9" cy="497.76" r="1.45" fill="#bd1740"/>
<circle cx="80.89" cy="499.92" r="1.45" fill="#bd1740"/>
<circle cx="78.91" cy="501.46" r="1.45" fill="#bd1740"/>
<line x1="94.85" y1="469.74" x2="94.85" y2="486.98" stroke="#1f3c84" stroke-width="1"/>
<line x1="93.09" y1="469.74" x2="96.61" y2="469.74" stroke="#1f3c84" stroke-width="1"/>
<line x1="93.09" y1="486.98" x2="96.61" y2="486.98" stroke="#1f3c84" stroke-width="1"/>
<circle cx="94.85" cy="462.04" r="1.45" fill="#1f3c84"/>
<circle cx="95.86" cy="476.82" r="1.45" fill="#1f3c84"/>
<circle cx="93.84" cy="487.6" r="1.45" fill="#1f3c84"/>
<line x1="104.15" y1="491.6" x2="104.15" y2="497.15" stroke="#bd1740" stroke-width="1"/>
<line x1="102.39" y1="491.6" x2="105.91" y2="491.6" stroke="#bd1740" stroke-width="1"/>
<line x1="102.39" y1="497.15" x2="105.91" y2="497.15" stroke="#bd1740" stroke-width="1"/>
<circle cx="104.15" cy="487.29" r="1.45" fill="#bd1740"/>
<circle cx="105.16" cy="493.76" r="1.45" fill="#bd1740"/>
<circle cx="103.14" cy="495.92" r="1.45" fill="#bd1740"/>
<line x1="119.75" y1="457.72" x2="119.75" y2="465.12" stroke="#1f3c84" stroke-width="1"/>
<line x1="117.99" y1="457.72" x2="121.51" y2="457.72" stroke="#1f3c84" stroke-width="1"/>
<line x1="117.99" y1="465.12" x2="121.51" y2="465.12" stroke="#1f3c84" stroke-width="1"/>
<circle cx="119.75" cy="455.88" r="1.45" fill="#1f3c84"/>
<circle cx="120.76" cy="459.88" r="1.45" fill="#1f3c84"/>
<circle cx="118.74" cy="467.58" r="1.45" fill="#1f3c84"/>
<line x1="129.25" y1="487.6" x2="129.25" y2="498.69" stroke="#bd1740" stroke-width="1"/>
<line x1="127.6" y1="487.6" x2="130.9" y2="487.6" stroke="#bd1740" stroke-width="1"/>
<line x1="127.6" y1="498.69" x2="130.9" y2="498.69" stroke="#bd1740" stroke-width="1"/>
<circle cx="129.25" cy="482.06" r="1.45" fill="#bd1740"/>
<circle cx="130.19" cy="495.92" r="1.45" fill="#bd1740"/>
<circle cx="128.31" cy="498.38" r="1.45" fill="#bd1740"/>
<line x1="144.5" y1="470.04" x2="144.5" y2="476.2" stroke="#1f3c84" stroke-width="1"/>
<line x1="142.65" y1="470.04" x2="146.35" y2="470.04" stroke="#1f3c84" stroke-width="1"/>
<line x1="142.65" y1="476.2" x2="146.35" y2="476.2" stroke="#1f3c84" stroke-width="1"/>
<circle cx="144.5" cy="466.04" r="1.45" fill="#1f3c84"/>
<circle cx="145.56" cy="473.74" r="1.45" fill="#1f3c84"/>
<circle cx="143.44" cy="477.44" r="1.45" fill="#1f3c84"/>
<line x1="153.7" y1="489.76" x2="153.7" y2="493.45" stroke="#bd1740" stroke-width="1"/>
<line x1="151.96" y1="489.76" x2="155.44" y2="489.76" stroke="#bd1740" stroke-width="1"/>
<line x1="151.96" y1="493.45" x2="155.44" y2="493.45" stroke="#bd1740" stroke-width="1"/>
<circle cx="153.7" cy="489.14" r="1.45" fill="#bd1740"/>
<circle cx="154.69" cy="491.6" r="1.45" fill="#bd1740"/>
<circle cx="152.71" cy="492.84" r="1.45" fill="#bd1740"/>
<line x1="50.9" y1="510.7" x2="50.9" y2="513.2" stroke="#231f20" stroke-width="0.9"/>
<text x="50.9" y="522.48" font-size="6.6" text-anchor="middle">6</text>
<line x1="75.5" y1="510.7" x2="75.5" y2="513.2" stroke="#231f20" stroke-width="0.9"/>
<text x="75.5" y="522.48" font-size="6.6" text-anchor="middle">8</text>
<line x1="99.7" y1="510.7" x2="99.7" y2="513.2" stroke="#231f20" stroke-width="0.9"/>
<text x="99.7" y="522.48" font-size="6.6" text-anchor="middle">10</text>
<line x1="124.6" y1="510.7" x2="124.6" y2="513.2" stroke="#231f20" stroke-width="0.9"/>
<text x="124.6" y="522.48" font-size="6.6" text-anchor="middle">12</text>
<line x1="148.8" y1="510.7" x2="148.8" y2="513.2" stroke="#231f20" stroke-width="0.9"/>
<text x="148.8" y="522.48" font-size="6.6" text-anchor="middle">14</text>
<text x="100.4" y="533.8" font-size="8.6" text-anchor="middle" textLength="43.3" lengthAdjust="spacingAndGlyphs" stroke="#231f20" stroke-width="0.15">Days post BMT</text>
<circle cx="48.5" cy="451.5" r="1.1" fill="#1f3c84"/>
<circle cx="48.5" cy="461.9" r="1.1" fill="#bd1740"/>
<text x="53.1" y="454.07" font-size="6.3" text-anchor="start" fill="#222" textLength="28.8" lengthAdjust="spacingAndGlyphs">β-catenin<tspan font-size="4.8" dy="-2.5">fl/fl</tspan></text>
<text x="53.1" y="464.47" font-size="6.3" text-anchor="start" fill="#222" textLength="27" lengthAdjust="spacingAndGlyphs">β-catenin<tspan font-size="4.8" dy="-2.5">-/-</tspan></text>
<text transform="rotate(-90 14.1 478.1)" x="14.1" y="481.2" font-size="8.6" text-anchor="middle" textLength="58.2" lengthAdjust="spacingAndGlyphs" stroke="#231f20" stroke-width="0.18">Spleen weight(mg)</text>
<line x1="213.7" y1="446.4" x2="213.7" y2="511.4" stroke="#231f20" stroke-width="1.4"/>
<line x1="213" y1="510.7" x2="336.5" y2="510.7" stroke="#231f20" stroke-width="1.4"/>
<line x1="210.3" y1="510.7" x2="213.7" y2="510.7" stroke="#231f20" stroke-width="1"/>
<text transform="translate(208.7 513.08) scale(0.88 1)" font-size="6.6" text-anchor="end" stroke="#231f20" stroke-width="0.22">0</text>
<line x1="210.3" y1="490.2" x2="213.7" y2="490.2" stroke="#231f20" stroke-width="1"/>
<text transform="translate(208.7 492.58) scale(0.88 1)" font-size="6.6" text-anchor="end" stroke="#231f20" stroke-width="0.22">5</text>
<line x1="210.3" y1="469.7" x2="213.7" y2="469.7" stroke="#231f20" stroke-width="1"/>
<text transform="translate(208.7 472.08) scale(0.88 1)" font-size="6.6" text-anchor="end" stroke="#231f20" stroke-width="0.22">10</text>
<line x1="210.3" y1="449.2" x2="213.7" y2="449.2" stroke="#231f20" stroke-width="1"/>
<text transform="translate(208.7 451.58) scale(0.88 1)" font-size="6.6" text-anchor="end" stroke="#231f20" stroke-width="0.22">15</text>
<rect x="218.8" y="506.6" width="6.2" height="4.1" fill="#8f98be" stroke="#7f88b0" stroke-width="0.7"/>
<rect x="228.2" y="508.24" width="5.8" height="2.46" fill="#cb8b7f" stroke="#c27a6c" stroke-width="0.7"/>
<rect x="243" y="492.25" width="6" height="18.45" fill="#8f98be" stroke="#7f88b0" stroke-width="0.7"/>
<rect x="252.8" y="506.19" width="6.2" height="4.51" fill="#cb8b7f" stroke="#c27a6c" stroke-width="0.7"/>
<rect x="268.3" y="486.1" width="6.2" height="24.6" fill="#8f98be" stroke="#7f88b0" stroke-width="0.7"/>
<rect x="277.7" y="505.78" width="6.3" height="4.92" fill="#cb8b7f" stroke="#c27a6c" stroke-width="0.7"/>
<rect x="292.6" y="469.7" width="6.2" height="41" fill="#8f98be" stroke="#7f88b0" stroke-width="0.7"/>
<rect x="302" y="503.32" width="6" height="7.38" fill="#cb8b7f" stroke="#c27a6c" stroke-width="0.7"/>
<rect x="317.5" y="482" width="6.2" height="28.7" fill="#8f98be" stroke="#7f88b0" stroke-width="0.7"/>
<rect x="326.8" y="507.01" width="6.2" height="3.69" fill="#cb8b7f" stroke="#c27a6c" stroke-width="0.7"/>
<line x1="221.9" y1="505.37" x2="221.9" y2="507.83" stroke="#1f3c84" stroke-width="1"/>
<line x1="220.16" y1="505.37" x2="223.64" y2="505.37" stroke="#1f3c84" stroke-width="1"/>
<line x1="220.16" y1="507.83" x2="223.64" y2="507.83" stroke="#1f3c84" stroke-width="1"/>
<circle cx="221.9" cy="503.73" r="1.45" fill="#1f3c84"/>
<circle cx="222.89" cy="506.6" r="1.45" fill="#1f3c84"/>
<circle cx="220.91" cy="507.83" r="1.45" fill="#1f3c84"/>
<line x1="231.1" y1="507.83" x2="231.1" y2="508.65" stroke="#bd1740" stroke-width="1"/>
<line x1="229.48" y1="507.83" x2="232.72" y2="507.83" stroke="#bd1740" stroke-width="1"/>
<line x1="229.48" y1="508.65" x2="232.72" y2="508.65" stroke="#bd1740" stroke-width="1"/>
<circle cx="231.1" cy="507.83" r="1.45" fill="#bd1740"/>
<circle cx="232.03" cy="508.24" r="1.45" fill="#bd1740"/>
<circle cx="230.17" cy="508.65" r="1.45" fill="#bd1740"/>
<line x1="246" y1="491.02" x2="246" y2="493.48" stroke="#1f3c84" stroke-width="1"/>
<line x1="244.32" y1="491.02" x2="247.68" y2="491.02" stroke="#1f3c84" stroke-width="1"/>
<line x1="244.32" y1="493.48" x2="247.68" y2="493.48" stroke="#1f3c84" stroke-width="1"/>
<circle cx="246" cy="490.61" r="1.45" fill="#1f3c84"/>
<circle cx="246.96" cy="492.25" r="1.45" fill="#1f3c84"/>
<circle cx="245.04" cy="493.48" r="1.45" fill="#1f3c84"/>
<line x1="255.9" y1="505.37" x2="255.9" y2="507.01" stroke="#bd1740" stroke-width="1"/>
<line x1="254.16" y1="505.37" x2="257.64" y2="505.37" stroke="#bd1740" stroke-width="1"/>
<line x1="254.16" y1="507.01" x2="257.64" y2="507.01" stroke="#bd1740" stroke-width="1"/>
<circle cx="255.9" cy="504.96" r="1.45" fill="#bd1740"/>
<circle cx="256.89" cy="506.19" r="1.45" fill="#bd1740"/>
<circle cx="254.91" cy="507.01" r="1.45" fill="#bd1740"/>
<line x1="271.4" y1="475.85" x2="271.4" y2="496.35" stroke="#1f3c84" stroke-width="1"/>
<line x1="269.66" y1="475.85" x2="273.14" y2="475.85" stroke="#1f3c84" stroke-width="1"/>
<line x1="269.66" y1="496.35" x2="273.14" y2="496.35" stroke="#1f3c84" stroke-width="1"/>
<circle cx="271.4" cy="466.42" r="1.45" fill="#1f3c84"/>
<circle cx="272.39" cy="486.1" r="1.45" fill="#1f3c84"/>
<circle cx="270.41" cy="501.68" r="1.45" fill="#1f3c84"/>
<line x1="280.85" y1="504.55" x2="280.85" y2="507.01" stroke="#bd1740" stroke-width="1"/>
<line x1="279.09" y1="504.55" x2="282.61" y2="504.55" stroke="#bd1740" stroke-width="1"/>
<line x1="279.09" y1="507.01" x2="282.61" y2="507.01" stroke="#bd1740" stroke-width="1"/>
<circle cx="280.85" cy="504.14" r="1.45" fill="#bd1740"/>
<circle cx="281.86" cy="505.78" r="1.45" fill="#bd1740"/>
<circle cx="279.84" cy="507.42" r="1.45" fill="#bd1740"/>
<line x1="295.7" y1="463.55" x2="295.7" y2="475.85" stroke="#1f3c84" stroke-width="1"/>
<line x1="293.96" y1="463.55" x2="297.44" y2="463.55" stroke="#1f3c84" stroke-width="1"/>
<line x1="293.96" y1="475.85" x2="297.44" y2="475.85" stroke="#1f3c84" stroke-width="1"/>
<circle cx="295.7" cy="457.4" r="1.45" fill="#1f3c84"/>
<circle cx="296.69" cy="469.7" r="1.45" fill="#1f3c84"/>
<circle cx="294.71" cy="475.85" r="1.45" fill="#1f3c84"/>
<line x1="305" y1="498.4" x2="305" y2="508.24" stroke="#bd1740" stroke-width="1"/>
<line x1="303.32" y1="498.4" x2="306.68" y2="498.4" stroke="#bd1740" stroke-width="1"/>
<line x1="303.32" y1="508.24" x2="306.68" y2="508.24" stroke="#bd1740" stroke-width="1"/>
<circle cx="305" cy="493.89" r="1.45" fill="#bd1740"/>
<circle cx="305.96" cy="505.78" r="1.45" fill="#bd1740"/>
<circle cx="304.04" cy="508.65" r="1.45" fill="#bd1740"/>
<line x1="320.6" y1="479.54" x2="320.6" y2="484.46" stroke="#1f3c84" stroke-width="1"/>
<line x1="318.86" y1="479.54" x2="322.34" y2="479.54" stroke="#1f3c84" stroke-width="1"/>
<line x1="318.86" y1="484.46" x2="322.34" y2="484.46" stroke="#1f3c84" stroke-width="1"/>
<circle cx="320.6" cy="477.9" r="1.45" fill="#1f3c84"/>
<circle cx="321.59" cy="479.95" r="1.45" fill="#1f3c84"/>
<circle cx="319.61" cy="484.05" r="1.45" fill="#1f3c84"/>
<line x1="329.9" y1="506.19" x2="329.9" y2="507.83" stroke="#bd1740" stroke-width="1"/>
<line x1="328.16" y1="506.19" x2="331.64" y2="506.19" stroke="#bd1740" stroke-width="1"/>
<line x1="328.16" y1="507.83" x2="331.64" y2="507.83" stroke="#bd1740" stroke-width="1"/>
<circle cx="329.9" cy="506.19" r="1.45" fill="#bd1740"/>
<circle cx="330.89" cy="507.01" r="1.45" fill="#bd1740"/>
<circle cx="328.91" cy="507.83" r="1.45" fill="#bd1740"/>
<line x1="225.8" y1="510.7" x2="225.8" y2="513.2" stroke="#231f20" stroke-width="0.9"/>
<text x="225.8" y="522.48" font-size="6.6" text-anchor="middle">6</text>
<line x1="250.7" y1="510.7" x2="250.7" y2="513.2" stroke="#231f20" stroke-width="0.9"/>
<text x="250.7" y="522.48" font-size="6.6" text-anchor="middle">8</text>
<line x1="276" y1="510.7" x2="276" y2="513.2" stroke="#231f20" stroke-width="0.9"/>
<text x="276" y="522.48" font-size="6.6" text-anchor="middle">10</text>
<line x1="300.2" y1="510.7" x2="300.2" y2="513.2" stroke="#231f20" stroke-width="0.9"/>
<text x="300.2" y="522.48" font-size="6.6" text-anchor="middle">12</text>
<line x1="324.5" y1="510.7" x2="324.5" y2="513.2" stroke="#231f20" stroke-width="0.9"/>
<text x="324.5" y="522.48" font-size="6.6" text-anchor="middle">14</text>
<text x="276" y="533.8" font-size="8.6" text-anchor="middle" textLength="43.3" lengthAdjust="spacingAndGlyphs" stroke="#231f20" stroke-width="0.15">Days post BMT</text>
<circle cx="224" cy="451.5" r="1.1" fill="#1f3c84"/>
<circle cx="224" cy="461.9" r="1.1" fill="#bd1740"/>
<text x="228.6" y="454.07" font-size="6.3" text-anchor="start" fill="#222" textLength="28.8" lengthAdjust="spacingAndGlyphs">β-catenin<tspan font-size="4.8" dy="-2.5">fl/fl</tspan></text>
<text x="228.6" y="464.47" font-size="6.3" text-anchor="start" fill="#222" textLength="27" lengthAdjust="spacingAndGlyphs">β-catenin<tspan font-size="4.8" dy="-2.5">-/-</tspan></text>
<text transform="rotate(-90 192.4 478.1)" x="192.4" y="481.12" font-size="8.4" text-anchor="middle" textLength="58.2" lengthAdjust="spacingAndGlyphs" stroke="#231f20" stroke-width="0.18">Cell number (x10<tspan font-size="5.4" dy="-2.8">6</tspan><tspan dy="2.8">)</tspan></text>
<text x="355.4" y="430.2" font-size="11.8" font-weight="bold" fill="#000" stroke="#000" stroke-width="0.35" textLength="9.2" lengthAdjust="spacingAndGlyphs">G</text>
<line x1="381.5" y1="436.5" x2="381.5" y2="511.4" stroke="#231f20" stroke-width="1.4"/>
<line x1="380.8" y1="510.7" x2="511.5" y2="510.7" stroke="#231f20" stroke-width="1.4"/>
<line x1="378.1" y1="510.7" x2="381.5" y2="510.7" stroke="#231f20" stroke-width="1"/>
<text transform="translate(376.5 513.08) scale(0.88 1)" font-size="6.6" text-anchor="end" stroke="#231f20" stroke-width="0.22">0</text>
<line x1="378.1" y1="486.9" x2="381.5" y2="486.9" stroke="#231f20" stroke-width="1"/>
<text transform="translate(376.5 489.28) scale(0.88 1)" font-size="6.6" text-anchor="end" stroke="#231f20" stroke-width="0.22">20</text>
<line x1="378.1" y1="463.1" x2="381.5" y2="463.1" stroke="#231f20" stroke-width="1"/>
<text transform="translate(376.5 465.48) scale(0.88 1)" font-size="6.6" text-anchor="end" stroke="#231f20" stroke-width="0.22">40</text>
<line x1="378.1" y1="439.3" x2="381.5" y2="439.3" stroke="#231f20" stroke-width="1"/>
<text transform="translate(376.5 441.68) scale(0.88 1)" font-size="6.6" text-anchor="end" stroke="#231f20" stroke-width="0.22">60</text>
<line x1="381.5" y1="510.7" x2="381.5" y2="513.2" stroke="#231f20" stroke-width="0.9"/>
<text x="381.5" y="522.48" font-size="6.6" text-anchor="middle">0</text>
<line x1="390.04" y1="510.7" x2="390.04" y2="513.2" stroke="#231f20" stroke-width="0.9"/>
<text x="390.04" y="522.48" font-size="6.6" text-anchor="middle">2</text>
<line x1="398.58" y1="510.7" x2="398.58" y2="513.2" stroke="#231f20" stroke-width="0.9"/>
<text x="398.58" y="522.48" font-size="6.6" text-anchor="middle">4</text>
<line x1="407.12" y1="510.7" x2="407.12" y2="513.2" stroke="#231f20" stroke-width="0.9"/>
<text x="407.12" y="522.48" font-size="6.6" text-anchor="middle">6</text>
<line x1="415.66" y1="510.7" x2="415.66" y2="513.2" stroke="#231f20" stroke-width="0.9"/>
<text x="415.66" y="522.48" font-size="6.6" text-anchor="middle">8</text>
<line x1="424.2" y1="510.7" x2="424.2" y2="513.2" stroke="#231f20" stroke-width="0.9"/>
<text x="424.2" y="522.48" font-size="6.6" text-anchor="middle">10</text>
<line x1="432.74" y1="510.7" x2="432.74" y2="513.2" stroke="#231f20" stroke-width="0.9"/>
<text x="432.74" y="522.48" font-size="6.6" text-anchor="middle">12</text>
<line x1="441.28" y1="510.7" x2="441.28" y2="513.2" stroke="#231f20" stroke-width="0.9"/>
<text x="441.28" y="522.48" font-size="6.6" text-anchor="middle">14</text>
<line x1="449.82" y1="510.7" x2="449.82" y2="513.2" stroke="#231f20" stroke-width="0.9"/>
<text x="449.82" y="522.48" font-size="6.6" text-anchor="middle">16</text>
<line x1="458.36" y1="510.7" x2="458.36" y2="513.2" stroke="#231f20" stroke-width="0.9"/>
<text x="458.36" y="522.48" font-size="6.6" text-anchor="middle">18</text>
<line x1="466.9" y1="510.7" x2="466.9" y2="513.2" stroke="#231f20" stroke-width="0.9"/>
<text x="466.9" y="522.48" font-size="6.6" text-anchor="middle">20</text>
<line x1="475.44" y1="510.7" x2="475.44" y2="513.2" stroke="#231f20" stroke-width="0.9"/>
<text x="475.44" y="522.48" font-size="6.6" text-anchor="middle">22</text>
<line x1="483.98" y1="510.7" x2="483.98" y2="513.2" stroke="#231f20" stroke-width="0.9"/>
<text x="483.98" y="522.48" font-size="6.6" text-anchor="middle">24</text>
<line x1="492.52" y1="510.7" x2="492.52" y2="513.2" stroke="#231f20" stroke-width="0.9"/>
<text x="492.52" y="522.48" font-size="6.6" text-anchor="middle">26</text>
<line x1="501.06" y1="510.7" x2="501.06" y2="513.2" stroke="#231f20" stroke-width="0.9"/>
<text x="501.06" y="522.48" font-size="6.6" text-anchor="middle">28</text>
<line x1="509.6" y1="510.7" x2="509.6" y2="513.2" stroke="#231f20" stroke-width="0.9"/>
<text x="509.6" y="522.48" font-size="6.6" text-anchor="middle">30</text>
<path d="M381.5 454.77 L390.04 457.75 L398.58 464.29 L407.12 470.24 L415.66 479.76 L424.2 484.52 L432.74 482.14 L441.28 477.97 L449.82 471.43 L458.36 464.88 L466.9 463.1 L475.44 461.31 L483.98 460.12 L492.52 460.72" fill="none" stroke="#2c5190" stroke-width="0.95" stroke-linejoin="round"/>
<line x1="381.5" y1="453.58" x2="381.5" y2="455.96" stroke="#2c5190" stroke-width="0.9"/>
<line x1="380" y1="453.58" x2="383" y2="453.58" stroke="#2c5190" stroke-width="0.9"/>
<line x1="380" y1="455.96" x2="383" y2="455.96" stroke="#2c5190" stroke-width="0.9"/>
<rect x="380.5" y="453.77" width="2" height="2" fill="#2c5190"/>
<line x1="390.04" y1="455.37" x2="390.04" y2="460.12" stroke="#2c5190" stroke-width="0.9"/>
<line x1="388.54" y1="455.37" x2="391.54" y2="455.37" stroke="#2c5190" stroke-width="0.9"/>
<line x1="388.54" y1="460.12" x2="391.54" y2="460.12" stroke="#2c5190" stroke-width="0.9"/>
<rect x="389.04" y="456.75" width="2" height="2" fill="#2c5190"/>
<line x1="398.58" y1="461.91" x2="398.58" y2="466.67" stroke="#2c5190" stroke-width="0.9"/>
<line x1="397.08" y1="461.91" x2="400.08" y2="461.91" stroke="#2c5190" stroke-width="0.9"/>
<line x1="397.08" y1="466.67" x2="400.08" y2="466.67" stroke="#2c5190" stroke-width="0.9"/>
<rect x="397.58" y="463.29" width="2" height="2" fill="#2c5190"/>
<line x1="407.12" y1="465.48" x2="407.12" y2="475" stroke="#2c5190" stroke-width="0.9"/>
<line x1="405.62" y1="465.48" x2="408.62" y2="465.48" stroke="#2c5190" stroke-width="0.9"/>
<line x1="405.62" y1="475" x2="408.62" y2="475" stroke="#2c5190" stroke-width="0.9"/>
<rect x="406.12" y="469.24" width="2" height="2" fill="#2c5190"/>
<line x1="415.66" y1="475" x2="415.66" y2="484.52" stroke="#2c5190" stroke-width="0.9"/>
<line x1="414.16" y1="475" x2="417.16" y2="475" stroke="#2c5190" stroke-width="0.9"/>
<line x1="414.16" y1="484.52" x2="417.16" y2="484.52" stroke="#2c5190" stroke-width="0.9"/>
<rect x="414.66" y="478.76" width="2" height="2" fill="#2c5190"/>
<line x1="424.2" y1="480.95" x2="424.2" y2="488.09" stroke="#2c5190" stroke-width="0.9"/>
<line x1="422.7" y1="480.95" x2="425.7" y2="480.95" stroke="#2c5190" stroke-width="0.9"/>
<line x1="422.7" y1="488.09" x2="425.7" y2="488.09" stroke="#2c5190" stroke-width="0.9"/>
<rect x="423.2" y="483.52" width="2" height="2" fill="#2c5190"/>
<line x1="432.74" y1="480.95" x2="432.74" y2="483.33" stroke="#2c5190" stroke-width="0.9"/>
<line x1="431.24" y1="480.95" x2="434.24" y2="480.95" stroke="#2c5190" stroke-width="0.9"/>
<line x1="431.24" y1="483.33" x2="434.24" y2="483.33" stroke="#2c5190" stroke-width="0.9"/>
<rect x="431.74" y="481.14" width="2" height="2" fill="#2c5190"/>
<line x1="441.28" y1="476.78" x2="441.28" y2="479.16" stroke="#2c5190" stroke-width="0.9"/>
<line x1="439.78" y1="476.78" x2="442.78" y2="476.78" stroke="#2c5190" stroke-width="0.9"/>
<line x1="439.78" y1="479.16" x2="442.78" y2="479.16" stroke="#2c5190" stroke-width="0.9"/>
<rect x="440.28" y="476.97" width="2" height="2" fill="#2c5190"/>
<line x1="449.82" y1="469.05" x2="449.82" y2="473.81" stroke="#2c5190" stroke-width="0.9"/>
<line x1="448.32" y1="469.05" x2="451.32" y2="469.05" stroke="#2c5190" stroke-width="0.9"/>
<line x1="448.32" y1="473.81" x2="451.32" y2="473.81" stroke="#2c5190" stroke-width="0.9"/>
<rect x="448.82" y="470.43" width="2" height="2" fill="#2c5190"/>
<line x1="458.36" y1="463.1" x2="458.36" y2="466.67" stroke="#2c5190" stroke-width="0.9"/>
<line x1="456.86" y1="463.1" x2="459.86" y2="463.1" stroke="#2c5190" stroke-width="0.9"/>
<line x1="456.86" y1="466.67" x2="459.86" y2="466.67" stroke="#2c5190" stroke-width="0.9"/>
<rect x="457.36" y="463.88" width="2" height="2" fill="#2c5190"/>
<line x1="466.9" y1="460.72" x2="466.9" y2="465.48" stroke="#2c5190" stroke-width="0.9"/>
<line x1="465.4" y1="460.72" x2="468.4" y2="460.72" stroke="#2c5190" stroke-width="0.9"/>
<line x1="465.4" y1="465.48" x2="468.4" y2="465.48" stroke="#2c5190" stroke-width="0.9"/>
<rect x="465.9" y="462.1" width="2" height="2" fill="#2c5190"/>
<line x1="475.44" y1="459.53" x2="475.44" y2="463.1" stroke="#2c5190" stroke-width="0.9"/>
<line x1="473.94" y1="459.53" x2="476.94" y2="459.53" stroke="#2c5190" stroke-width="0.9"/>
<line x1="473.94" y1="463.1" x2="476.94" y2="463.1" stroke="#2c5190" stroke-width="0.9"/>
<rect x="474.44" y="460.31" width="2" height="2" fill="#2c5190"/>
<line x1="483.98" y1="458.94" x2="483.98" y2="461.31" stroke="#2c5190" stroke-width="0.9"/>
<line x1="482.48" y1="458.94" x2="485.48" y2="458.94" stroke="#2c5190" stroke-width="0.9"/>
<line x1="482.48" y1="461.31" x2="485.48" y2="461.31" stroke="#2c5190" stroke-width="0.9"/>
<rect x="482.98" y="459.12" width="2" height="2" fill="#2c5190"/>
<line x1="492.52" y1="457.15" x2="492.52" y2="464.29" stroke="#2c5190" stroke-width="0.9"/>
<line x1="491.02" y1="457.15" x2="494.02" y2="457.15" stroke="#2c5190" stroke-width="0.9"/>
<line x1="491.02" y1="464.29" x2="494.02" y2="464.29" stroke="#2c5190" stroke-width="0.9"/>
<rect x="491.52" y="459.72" width="2" height="2" fill="#2c5190"/>
<path d="M381.5 454.77 L390.04 458.34 L398.58 465.48 L407.12 471.43 L415.66 482.14 L424.2 487.5 L432.74 494.63 L441.28 495.82 L449.82 494.04 L458.36 485.12 L466.9 481.55 L475.44 476.78 L483.98 475 L492.52 470.24" fill="none" stroke="#b3163f" stroke-width="0.95" stroke-linejoin="round"/>
<line x1="381.5" y1="453.58" x2="381.5" y2="455.96" stroke="#b3163f" stroke-width="0.9"/>
<line x1="380" y1="453.58" x2="383" y2="453.58" stroke="#b3163f" stroke-width="0.9"/>
<line x1="380" y1="455.96" x2="383" y2="455.96" stroke="#b3163f" stroke-width="0.9"/>
<rect x="380.5" y="453.77" width="2" height="2" fill="#b3163f"/>
<line x1="390.04" y1="455.96" x2="390.04" y2="460.72" stroke="#b3163f" stroke-width="0.9"/>
<line x1="388.54" y1="455.96" x2="391.54" y2="455.96" stroke="#b3163f" stroke-width="0.9"/>
<line x1="388.54" y1="460.72" x2="391.54" y2="460.72" stroke="#b3163f" stroke-width="0.9"/>
<rect x="389.04" y="457.34" width="2" height="2" fill="#b3163f"/>
<line x1="398.58" y1="463.1" x2="398.58" y2="467.86" stroke="#b3163f" stroke-width="0.9"/>
<line x1="397.08" y1="463.1" x2="400.08" y2="463.1" stroke="#b3163f" stroke-width="0.9"/>
<line x1="397.08" y1="467.86" x2="400.08" y2="467.86" stroke="#b3163f" stroke-width="0.9"/>
<rect x="397.58" y="464.48" width="2" height="2" fill="#b3163f"/>
<line x1="407.12" y1="467.86" x2="407.12" y2="475" stroke="#b3163f" stroke-width="0.9"/>
<line x1="405.62" y1="467.86" x2="408.62" y2="467.86" stroke="#b3163f" stroke-width="0.9"/>
<line x1="405.62" y1="475" x2="408.62" y2="475" stroke="#b3163f" stroke-width="0.9"/>
<rect x="406.12" y="470.43" width="2" height="2" fill="#b3163f"/>
<line x1="415.66" y1="478.57" x2="415.66" y2="485.71" stroke="#b3163f" stroke-width="0.9"/>
<line x1="414.16" y1="478.57" x2="417.16" y2="478.57" stroke="#b3163f" stroke-width="0.9"/>
<line x1="414.16" y1="485.71" x2="417.16" y2="485.71" stroke="#b3163f" stroke-width="0.9"/>
<rect x="414.66" y="481.14" width="2" height="2" fill="#b3163f"/>
<line x1="424.2" y1="483.93" x2="424.2" y2="491.06" stroke="#b3163f" stroke-width="0.9"/>
<line x1="422.7" y1="483.93" x2="425.7" y2="483.93" stroke="#b3163f" stroke-width="0.9"/>
<line x1="422.7" y1="491.06" x2="425.7" y2="491.06" stroke="#b3163f" stroke-width="0.9"/>
<rect x="423.2" y="486.5" width="2" height="2" fill="#b3163f"/>
<line x1="432.74" y1="492.25" x2="432.74" y2="497.01" stroke="#b3163f" stroke-width="0.9"/>
<line x1="431.24" y1="492.25" x2="434.24" y2="492.25" stroke="#b3163f" stroke-width="0.9"/>
<line x1="431.24" y1="497.01" x2="434.24" y2="497.01" stroke="#b3163f" stroke-width="0.9"/>
<rect x="431.74" y="493.63" width="2" height="2" fill="#b3163f"/>
<line x1="441.28" y1="493.44" x2="441.28" y2="498.2" stroke="#b3163f" stroke-width="0.9"/>
<line x1="439.78" y1="493.44" x2="442.78" y2="493.44" stroke="#b3163f" stroke-width="0.9"/>
<line x1="439.78" y1="498.2" x2="442.78" y2="498.2" stroke="#b3163f" stroke-width="0.9"/>
<rect x="440.28" y="494.82" width="2" height="2" fill="#b3163f"/>
<line x1="449.82" y1="486.9" x2="449.82" y2="501.18" stroke="#b3163f" stroke-width="0.9"/>
<line x1="448.32" y1="486.9" x2="451.32" y2="486.9" stroke="#b3163f" stroke-width="0.9"/>
<line x1="448.32" y1="501.18" x2="451.32" y2="501.18" stroke="#b3163f" stroke-width="0.9"/>
<rect x="448.82" y="493.04" width="2" height="2" fill="#b3163f"/>
<line x1="458.36" y1="482.74" x2="458.36" y2="487.5" stroke="#b3163f" stroke-width="0.9"/>
<line x1="456.86" y1="482.74" x2="459.86" y2="482.74" stroke="#b3163f" stroke-width="0.9"/>
<line x1="456.86" y1="487.5" x2="459.86" y2="487.5" stroke="#b3163f" stroke-width="0.9"/>
<rect x="457.36" y="484.12" width="2" height="2" fill="#b3163f"/>
<line x1="466.9" y1="479.76" x2="466.9" y2="483.33" stroke="#b3163f" stroke-width="0.9"/>
<line x1="465.4" y1="479.76" x2="468.4" y2="479.76" stroke="#b3163f" stroke-width="0.9"/>
<line x1="465.4" y1="483.33" x2="468.4" y2="483.33" stroke="#b3163f" stroke-width="0.9"/>
<rect x="465.9" y="480.55" width="2" height="2" fill="#b3163f"/>
<line x1="475.44" y1="475" x2="475.44" y2="478.57" stroke="#b3163f" stroke-width="0.9"/>
<line x1="473.94" y1="475" x2="476.94" y2="475" stroke="#b3163f" stroke-width="0.9"/>
<line x1="473.94" y1="478.57" x2="476.94" y2="478.57" stroke="#b3163f" stroke-width="0.9"/>
<rect x="474.44" y="475.78" width="2" height="2" fill="#b3163f"/>
<line x1="483.98" y1="473.21" x2="483.98" y2="476.78" stroke="#b3163f" stroke-width="0.9"/>
<line x1="482.48" y1="473.21" x2="485.48" y2="473.21" stroke="#b3163f" stroke-width="0.9"/>
<line x1="482.48" y1="476.78" x2="485.48" y2="476.78" stroke="#b3163f" stroke-width="0.9"/>
<rect x="482.98" y="474" width="2" height="2" fill="#b3163f"/>
<line x1="492.52" y1="466.67" x2="492.52" y2="473.81" stroke="#b3163f" stroke-width="0.9"/>
<line x1="491.02" y1="466.67" x2="494.02" y2="466.67" stroke="#b3163f" stroke-width="0.9"/>
<line x1="491.02" y1="473.81" x2="494.02" y2="473.81" stroke="#b3163f" stroke-width="0.9"/>
<rect x="491.52" y="469.24" width="2" height="2" fill="#b3163f"/>
<text x="447.3" y="533.8" font-size="8.6" text-anchor="middle" textLength="43.3" lengthAdjust="spacingAndGlyphs" stroke="#231f20" stroke-width="0.15">Days post BMT</text>
<line x1="391.2" y1="441.8" x2="398" y2="441.8" stroke="#2c5190" stroke-width="1.1"/>
<rect x="393.5" y="440.7" width="2.2" height="2.2" fill="#2c5190"/>
<line x1="391.2" y1="451.5" x2="398" y2="451.5" stroke="#b3163f" stroke-width="1.1"/>
<rect x="393.5" y="450.4" width="2.2" height="2.2" fill="#b3163f"/>
<text x="401.4" y="444.37" font-size="6.3" text-anchor="start" fill="#222" textLength="28.8" lengthAdjust="spacingAndGlyphs">β-catenin<tspan font-size="4.8" dy="-2.5">fl/fl</tspan></text>
<text x="401.4" y="454.07" font-size="6.3" text-anchor="start" fill="#222" textLength="27" lengthAdjust="spacingAndGlyphs">β-catenin<tspan font-size="4.8" dy="-2.5">-/-</tspan></text>
<text transform="rotate(-90 360.5 473.6)" x="360.5" y="476.62" font-size="8.4" text-anchor="middle" textLength="25" lengthAdjust="spacingAndGlyphs" stroke="#231f20" stroke-width="0.18">HCT (%)</text>
<text x="7.5" y="561.7" font-size="11.8" font-weight="bold" fill="#000" stroke="#000" stroke-width="0.35" textLength="9" lengthAdjust="spacingAndGlyphs">H</text>
<line x1="38.6" y1="572.7" x2="38.6" y2="633.6" stroke="#231f20" stroke-width="1.4"/>
<line x1="37.9" y1="632.9" x2="129" y2="632.9" stroke="#231f20" stroke-width="1.4"/>
<line x1="35.2" y1="632.9" x2="38.6" y2="632.9" stroke="#231f20" stroke-width="1"/>
<text transform="translate(33.6 635.28) scale(0.88 1)" font-size="6.6" text-anchor="end" stroke="#231f20" stroke-width="0.22">0</text>
<line x1="35.2" y1="604.2" x2="38.6" y2="604.2" stroke="#231f20" stroke-width="1"/>
<text transform="translate(33.6 606.58) scale(0.88 1)" font-size="6.6" text-anchor="end" stroke="#231f20" stroke-width="0.22">5</text>
<line x1="35.2" y1="575.5" x2="38.6" y2="575.5" stroke="#231f20" stroke-width="1"/>
<text transform="translate(33.6 577.88) scale(0.88 1)" font-size="6.6" text-anchor="end" stroke="#231f20" stroke-width="0.22">10</text>
<line x1="38.75" y1="632.9" x2="38.75" y2="635.4" stroke="#231f20" stroke-width="0.9"/>
<text x="38.75" y="644.88" font-size="6.6" text-anchor="middle">0</text>
<line x1="56.22" y1="632.9" x2="56.22" y2="635.4" stroke="#231f20" stroke-width="0.9"/>
<text x="56.22" y="644.88" font-size="6.6" text-anchor="middle">5</text>
<line x1="73.69" y1="632.9" x2="73.69" y2="635.4" stroke="#231f20" stroke-width="0.9"/>
<text x="73.69" y="644.88" font-size="6.6" text-anchor="middle">10</text>
<line x1="91.16" y1="632.9" x2="91.16" y2="635.4" stroke="#231f20" stroke-width="0.9"/>
<text x="91.16" y="644.88" font-size="6.6" text-anchor="middle">15</text>
<line x1="108.63" y1="632.9" x2="108.63" y2="635.4" stroke="#231f20" stroke-width="0.9"/>
<text x="108.63" y="644.88" font-size="6.6" text-anchor="middle">20</text>
<line x1="126.1" y1="632.9" x2="126.1" y2="635.4" stroke="#231f20" stroke-width="0.9"/>
<text x="126.1" y="644.88" font-size="6.6" text-anchor="middle">25</text>
<path d="M38.75 580.09 L49.23 588.13 L59.71 592.15 L70.2 597.31 L80.68 593.29 L91.16 589.28 L101.64 589.28 L112.12 587.55 L122.61 587.55" fill="none" stroke="#2c5190" stroke-width="0.95" stroke-linejoin="round"/>
<line x1="38.75" y1="578.94" x2="38.75" y2="581.24" stroke="#2c5190" stroke-width="0.9"/>
<line x1="37.25" y1="578.94" x2="40.25" y2="578.94" stroke="#2c5190" stroke-width="0.9"/>
<line x1="37.25" y1="581.24" x2="40.25" y2="581.24" stroke="#2c5190" stroke-width="0.9"/>
<rect x="37.75" y="579.09" width="2" height="2" fill="#2c5190"/>
<line x1="49.23" y1="586.98" x2="49.23" y2="589.28" stroke="#2c5190" stroke-width="0.9"/>
<line x1="47.73" y1="586.98" x2="50.73" y2="586.98" stroke="#2c5190" stroke-width="0.9"/>
<line x1="47.73" y1="589.28" x2="50.73" y2="589.28" stroke="#2c5190" stroke-width="0.9"/>
<rect x="48.23" y="587.13" width="2" height="2" fill="#2c5190"/>
<line x1="59.71" y1="589.28" x2="59.71" y2="595.02" stroke="#2c5190" stroke-width="0.9"/>
<line x1="58.21" y1="589.28" x2="61.21" y2="589.28" stroke="#2c5190" stroke-width="0.9"/>
<line x1="58.21" y1="595.02" x2="61.21" y2="595.02" stroke="#2c5190" stroke-width="0.9"/>
<rect x="58.71" y="591.15" width="2" height="2" fill="#2c5190"/>
<line x1="70.2" y1="593.87" x2="70.2" y2="600.76" stroke="#2c5190" stroke-width="0.9"/>
<line x1="68.7" y1="593.87" x2="71.7" y2="593.87" stroke="#2c5190" stroke-width="0.9"/>
<line x1="68.7" y1="600.76" x2="71.7" y2="600.76" stroke="#2c5190" stroke-width="0.9"/>
<rect x="69.2" y="596.31" width="2" height="2" fill="#2c5190"/>
<line x1="80.68" y1="592.15" x2="80.68" y2="594.44" stroke="#2c5190" stroke-width="0.9"/>
<line x1="79.18" y1="592.15" x2="82.18" y2="592.15" stroke="#2c5190" stroke-width="0.9"/>
<line x1="79.18" y1="594.44" x2="82.18" y2="594.44" stroke="#2c5190" stroke-width="0.9"/>
<rect x="79.68" y="592.29" width="2" height="2" fill="#2c5190"/>
<line x1="91.16" y1="585.83" x2="91.16" y2="592.72" stroke="#2c5190" stroke-width="0.9"/>
<line x1="89.66" y1="585.83" x2="92.66" y2="585.83" stroke="#2c5190" stroke-width="0.9"/>
<line x1="89.66" y1="592.72" x2="92.66" y2="592.72" stroke="#2c5190" stroke-width="0.9"/>
<rect x="90.16" y="588.28" width="2" height="2" fill="#2c5190"/>
<line x1="101.64" y1="586.98" x2="101.64" y2="591.57" stroke="#2c5190" stroke-width="0.9"/>
<line x1="100.14" y1="586.98" x2="103.14" y2="586.98" stroke="#2c5190" stroke-width="0.9"/>
<line x1="100.14" y1="591.57" x2="103.14" y2="591.57" stroke="#2c5190" stroke-width="0.9"/>
<rect x="100.64" y="588.28" width="2" height="2" fill="#2c5190"/>
<line x1="112.12" y1="586.98" x2="112.12" y2="588.13" stroke="#2c5190" stroke-width="0.9"/>
<line x1="110.62" y1="586.98" x2="113.62" y2="586.98" stroke="#2c5190" stroke-width="0.9"/>
<line x1="110.62" y1="588.13" x2="113.62" y2="588.13" stroke="#2c5190" stroke-width="0.9"/>
<rect x="111.12" y="586.55" width="2" height="2" fill="#2c5190"/>
<line x1="122.61" y1="585.83" x2="122.61" y2="589.28" stroke="#2c5190" stroke-width="0.9"/>
<line x1="121.11" y1="585.83" x2="124.11" y2="585.83" stroke="#2c5190" stroke-width="0.9"/>
<line x1="121.11" y1="589.28" x2="124.11" y2="589.28" stroke="#2c5190" stroke-width="0.9"/>
<rect x="121.61" y="586.55" width="2" height="2" fill="#2c5190"/>
<path d="M38.75 579.52 L49.23 590.42 L59.71 592.72 L70.2 595.02 L80.68 610.51 L91.16 612.24 L101.64 603.05 L112.12 597.89 L122.61 599.03" fill="none" stroke="#b3163f" stroke-width="0.95" stroke-linejoin="round"/>
<line x1="38.75" y1="577.8" x2="38.75" y2="581.24" stroke="#b3163f" stroke-width="0.9"/>
<line x1="37.25" y1="577.8" x2="40.25" y2="577.8" stroke="#b3163f" stroke-width="0.9"/>
<line x1="37.25" y1="581.24" x2="40.25" y2="581.24" stroke="#b3163f" stroke-width="0.9"/>
<rect x="37.75" y="578.52" width="2" height="2" fill="#b3163f"/>
<line x1="49.23" y1="588.13" x2="49.23" y2="592.72" stroke="#b3163f" stroke-width="0.9"/>
<line x1="47.73" y1="588.13" x2="50.73" y2="588.13" stroke="#b3163f" stroke-width="0.9"/>
<line x1="47.73" y1="592.72" x2="50.73" y2="592.72" stroke="#b3163f" stroke-width="0.9"/>
<rect x="48.23" y="589.42" width="2" height="2" fill="#b3163f"/>
<line x1="59.71" y1="589.28" x2="59.71" y2="596.16" stroke="#b3163f" stroke-width="0.9"/>
<line x1="58.21" y1="589.28" x2="61.21" y2="589.28" stroke="#b3163f" stroke-width="0.9"/>
<line x1="58.21" y1="596.16" x2="61.21" y2="596.16" stroke="#b3163f" stroke-width="0.9"/>
<rect x="58.71" y="591.72" width="2" height="2" fill="#b3163f"/>
<line x1="70.2" y1="591.57" x2="70.2" y2="598.46" stroke="#b3163f" stroke-width="0.9"/>
<line x1="68.7" y1="591.57" x2="71.7" y2="591.57" stroke="#b3163f" stroke-width="0.9"/>
<line x1="68.7" y1="598.46" x2="71.7" y2="598.46" stroke="#b3163f" stroke-width="0.9"/>
<rect x="69.2" y="594.02" width="2" height="2" fill="#b3163f"/>
<line x1="80.68" y1="606.5" x2="80.68" y2="614.53" stroke="#b3163f" stroke-width="0.9"/>
<line x1="79.18" y1="606.5" x2="82.18" y2="606.5" stroke="#b3163f" stroke-width="0.9"/>
<line x1="79.18" y1="614.53" x2="82.18" y2="614.53" stroke="#b3163f" stroke-width="0.9"/>
<rect x="79.68" y="609.51" width="2" height="2" fill="#b3163f"/>
<line x1="91.16" y1="609.94" x2="91.16" y2="614.53" stroke="#b3163f" stroke-width="0.9"/>
<line x1="89.66" y1="609.94" x2="92.66" y2="609.94" stroke="#b3163f" stroke-width="0.9"/>
<line x1="89.66" y1="614.53" x2="92.66" y2="614.53" stroke="#b3163f" stroke-width="0.9"/>
<rect x="90.16" y="611.24" width="2" height="2" fill="#b3163f"/>
<line x1="101.64" y1="599.03" x2="101.64" y2="607.07" stroke="#b3163f" stroke-width="0.9"/>
<line x1="100.14" y1="599.03" x2="103.14" y2="599.03" stroke="#b3163f" stroke-width="0.9"/>
<line x1="100.14" y1="607.07" x2="103.14" y2="607.07" stroke="#b3163f" stroke-width="0.9"/>
<rect x="100.64" y="602.05" width="2" height="2" fill="#b3163f"/>
<line x1="112.12" y1="594.44" x2="112.12" y2="601.33" stroke="#b3163f" stroke-width="0.9"/>
<line x1="110.62" y1="594.44" x2="113.62" y2="594.44" stroke="#b3163f" stroke-width="0.9"/>
<line x1="110.62" y1="601.33" x2="113.62" y2="601.33" stroke="#b3163f" stroke-width="0.9"/>
<rect x="111.12" y="596.89" width="2" height="2" fill="#b3163f"/>
<line x1="122.61" y1="593.87" x2="122.61" y2="604.2" stroke="#b3163f" stroke-width="0.9"/>
<line x1="121.11" y1="593.87" x2="124.11" y2="593.87" stroke="#b3163f" stroke-width="0.9"/>
<line x1="121.11" y1="604.2" x2="124.11" y2="604.2" stroke="#b3163f" stroke-width="0.9"/>
<rect x="121.61" y="598.03" width="2" height="2" fill="#b3163f"/>
<text x="83" y="657" font-size="8.6" text-anchor="middle" textLength="43.3" lengthAdjust="spacingAndGlyphs" stroke="#231f20" stroke-width="0.15">Days post BMT</text>
<line x1="125.3" y1="578" x2="132.1" y2="578" stroke="#2c5190" stroke-width="1.1"/>
<rect x="127.6" y="576.9" width="2.2" height="2.2" fill="#2c5190"/>
<line x1="125.3" y1="587.8" x2="132.1" y2="587.8" stroke="#b3163f" stroke-width="1.1"/>
<rect x="127.6" y="586.7" width="2.2" height="2.2" fill="#b3163f"/>
<text x="135.5" y="580.57" font-size="6.3" text-anchor="start" fill="#222" textLength="28.8" lengthAdjust="spacingAndGlyphs">β-catenin<tspan font-size="4.8" dy="-2.5">fl/fl</tspan></text>
<text x="135.5" y="590.37" font-size="6.3" text-anchor="start" fill="#222" textLength="27" lengthAdjust="spacingAndGlyphs">β-catenin<tspan font-size="4.8" dy="-2.5">-/-</tspan></text>
<text transform="rotate(-90 17.3 602.8)" x="17.3" y="605.82" font-size="8.4" text-anchor="middle" textLength="34.8" lengthAdjust="spacingAndGlyphs" stroke="#231f20" stroke-width="0.18">RBC (M/μL)</text>
<text x="184.2" y="561.7" font-size="11.8" font-weight="bold" fill="#000" stroke="#000" stroke-width="0.35" textLength="3.5" lengthAdjust="spacingAndGlyphs">I</text>
<line x1="213.8" y1="570.1" x2="213.8" y2="633.6" stroke="#231f20" stroke-width="1.4"/>
<line x1="213.1" y1="632.9" x2="307.8" y2="632.9" stroke="#231f20" stroke-width="1.4"/>
<line x1="210.4" y1="632.9" x2="213.8" y2="632.9" stroke="#231f20" stroke-width="1"/>
<text transform="translate(208.8 635.28) scale(0.88 1)" font-size="6.6" text-anchor="end" stroke="#231f20" stroke-width="0.22">0</text>
<line x1="210.4" y1="622.9" x2="213.8" y2="622.9" stroke="#231f20" stroke-width="1"/>
<text transform="translate(208.8 625.28) scale(0.88 1)" font-size="6.6" text-anchor="end" stroke="#231f20" stroke-width="0.22">3</text>
<line x1="210.4" y1="612.9" x2="213.8" y2="612.9" stroke="#231f20" stroke-width="1"/>
<text transform="translate(208.8 615.28) scale(0.88 1)" font-size="6.6" text-anchor="end" stroke="#231f20" stroke-width="0.22">6</text>
<line x1="210.4" y1="602.9" x2="213.8" y2="602.9" stroke="#231f20" stroke-width="1"/>
<text transform="translate(208.8 605.28) scale(0.88 1)" font-size="6.6" text-anchor="end" stroke="#231f20" stroke-width="0.22">9</text>
<line x1="210.4" y1="592.9" x2="213.8" y2="592.9" stroke="#231f20" stroke-width="1"/>
<text transform="translate(208.8 595.28) scale(0.88 1)" font-size="6.6" text-anchor="end" stroke="#231f20" stroke-width="0.22">12</text>
<line x1="210.4" y1="582.9" x2="213.8" y2="582.9" stroke="#231f20" stroke-width="1"/>
<text transform="translate(208.8 585.28) scale(0.88 1)" font-size="6.6" text-anchor="end" stroke="#231f20" stroke-width="0.22">15</text>
<line x1="210.4" y1="572.9" x2="213.8" y2="572.9" stroke="#231f20" stroke-width="1"/>
<text transform="translate(208.8 575.28) scale(0.88 1)" font-size="6.6" text-anchor="end" stroke="#231f20" stroke-width="0.22">18</text>
<line x1="214" y1="632.9" x2="214" y2="635.4" stroke="#231f20" stroke-width="0.9"/>
<text x="214" y="644.88" font-size="6.6" text-anchor="middle">0</text>
<line x1="232" y1="632.9" x2="232" y2="635.4" stroke="#231f20" stroke-width="0.9"/>
<text x="232" y="644.88" font-size="6.6" text-anchor="middle">5</text>
<line x1="250" y1="632.9" x2="250" y2="635.4" stroke="#231f20" stroke-width="0.9"/>
<text x="250" y="644.88" font-size="6.6" text-anchor="middle">10</text>
<line x1="268" y1="632.9" x2="268" y2="635.4" stroke="#231f20" stroke-width="0.9"/>
<text x="268" y="644.88" font-size="6.6" text-anchor="middle">15</text>
<line x1="286" y1="632.9" x2="286" y2="635.4" stroke="#231f20" stroke-width="0.9"/>
<text x="286" y="644.88" font-size="6.6" text-anchor="middle">20</text>
<line x1="304" y1="632.9" x2="304" y2="635.4" stroke="#231f20" stroke-width="0.9"/>
<text x="304" y="644.88" font-size="6.6" text-anchor="middle">25</text>
<path d="M214 584.57 L224.8 594.57 L235.6 606.23 L246.4 613.57 L257.2 609.57 L268 606.23 L278.8 596.23 L289.6 593.57 L300.4 592.9" fill="none" stroke="#2c5190" stroke-width="0.95" stroke-linejoin="round"/>
<line x1="214" y1="582.9" x2="214" y2="586.23" stroke="#2c5190" stroke-width="0.9"/>
<line x1="212.5" y1="582.9" x2="215.5" y2="582.9" stroke="#2c5190" stroke-width="0.9"/>
<line x1="212.5" y1="586.23" x2="215.5" y2="586.23" stroke="#2c5190" stroke-width="0.9"/>
<rect x="213" y="583.57" width="2" height="2" fill="#2c5190"/>
<line x1="224.8" y1="591.9" x2="224.8" y2="597.23" stroke="#2c5190" stroke-width="0.9"/>
<line x1="223.3" y1="591.9" x2="226.3" y2="591.9" stroke="#2c5190" stroke-width="0.9"/>
<line x1="223.3" y1="597.23" x2="226.3" y2="597.23" stroke="#2c5190" stroke-width="0.9"/>
<rect x="223.8" y="593.57" width="2" height="2" fill="#2c5190"/>
<line x1="235.6" y1="602.23" x2="235.6" y2="610.23" stroke="#2c5190" stroke-width="0.9"/>
<line x1="234.1" y1="602.23" x2="237.1" y2="602.23" stroke="#2c5190" stroke-width="0.9"/>
<line x1="234.1" y1="610.23" x2="237.1" y2="610.23" stroke="#2c5190" stroke-width="0.9"/>
<rect x="234.6" y="605.23" width="2" height="2" fill="#2c5190"/>
<line x1="246.4" y1="611.23" x2="246.4" y2="615.9" stroke="#2c5190" stroke-width="0.9"/>
<line x1="244.9" y1="611.23" x2="247.9" y2="611.23" stroke="#2c5190" stroke-width="0.9"/>
<line x1="244.9" y1="615.9" x2="247.9" y2="615.9" stroke="#2c5190" stroke-width="0.9"/>
<rect x="245.4" y="612.57" width="2" height="2" fill="#2c5190"/>
<line x1="257.2" y1="608.23" x2="257.2" y2="610.9" stroke="#2c5190" stroke-width="0.9"/>
<line x1="255.7" y1="608.23" x2="258.7" y2="608.23" stroke="#2c5190" stroke-width="0.9"/>
<line x1="255.7" y1="610.9" x2="258.7" y2="610.9" stroke="#2c5190" stroke-width="0.9"/>
<rect x="256.2" y="608.57" width="2" height="2" fill="#2c5190"/>
<line x1="268" y1="604.23" x2="268" y2="608.23" stroke="#2c5190" stroke-width="0.9"/>
<line x1="266.5" y1="604.23" x2="269.5" y2="604.23" stroke="#2c5190" stroke-width="0.9"/>
<line x1="266.5" y1="608.23" x2="269.5" y2="608.23" stroke="#2c5190" stroke-width="0.9"/>
<rect x="267" y="605.23" width="2" height="2" fill="#2c5190"/>
<line x1="278.8" y1="592.9" x2="278.8" y2="599.57" stroke="#2c5190" stroke-width="0.9"/>
<line x1="277.3" y1="592.9" x2="280.3" y2="592.9" stroke="#2c5190" stroke-width="0.9"/>
<line x1="277.3" y1="599.57" x2="280.3" y2="599.57" stroke="#2c5190" stroke-width="0.9"/>
<rect x="277.8" y="595.23" width="2" height="2" fill="#2c5190"/>
<line x1="289.6" y1="591.57" x2="289.6" y2="595.57" stroke="#2c5190" stroke-width="0.9"/>
<line x1="288.1" y1="591.57" x2="291.1" y2="591.57" stroke="#2c5190" stroke-width="0.9"/>
<line x1="288.1" y1="595.57" x2="291.1" y2="595.57" stroke="#2c5190" stroke-width="0.9"/>
<rect x="288.6" y="592.57" width="2" height="2" fill="#2c5190"/>
<line x1="300.4" y1="590.23" x2="300.4" y2="595.57" stroke="#2c5190" stroke-width="0.9"/>
<line x1="298.9" y1="590.23" x2="301.9" y2="590.23" stroke="#2c5190" stroke-width="0.9"/>
<line x1="298.9" y1="595.57" x2="301.9" y2="595.57" stroke="#2c5190" stroke-width="0.9"/>
<rect x="299.4" y="591.9" width="2" height="2" fill="#2c5190"/>
<path d="M214 582.9 L224.8 595.23 L235.6 608.57 L246.4 617.57 L257.2 618.23 L268 619.57 L278.8 611.9 L289.6 611.23 L300.4 605.23" fill="none" stroke="#b3163f" stroke-width="0.95" stroke-linejoin="round"/>
<line x1="214" y1="581.23" x2="214" y2="584.57" stroke="#b3163f" stroke-width="0.9"/>
<line x1="212.5" y1="581.23" x2="215.5" y2="581.23" stroke="#b3163f" stroke-width="0.9"/>
<line x1="212.5" y1="584.57" x2="215.5" y2="584.57" stroke="#b3163f" stroke-width="0.9"/>
<rect x="213" y="581.9" width="2" height="2" fill="#b3163f"/>
<line x1="224.8" y1="591.9" x2="224.8" y2="598.57" stroke="#b3163f" stroke-width="0.9"/>
<line x1="223.3" y1="591.9" x2="226.3" y2="591.9" stroke="#b3163f" stroke-width="0.9"/>
<line x1="223.3" y1="598.57" x2="226.3" y2="598.57" stroke="#b3163f" stroke-width="0.9"/>
<rect x="223.8" y="594.23" width="2" height="2" fill="#b3163f"/>
<line x1="235.6" y1="605.23" x2="235.6" y2="611.9" stroke="#b3163f" stroke-width="0.9"/>
<line x1="234.1" y1="605.23" x2="237.1" y2="605.23" stroke="#b3163f" stroke-width="0.9"/>
<line x1="234.1" y1="611.9" x2="237.1" y2="611.9" stroke="#b3163f" stroke-width="0.9"/>
<rect x="234.6" y="607.57" width="2" height="2" fill="#b3163f"/>
<line x1="246.4" y1="615.23" x2="246.4" y2="619.9" stroke="#b3163f" stroke-width="0.9"/>
<line x1="244.9" y1="615.23" x2="247.9" y2="615.23" stroke="#b3163f" stroke-width="0.9"/>
<line x1="244.9" y1="619.9" x2="247.9" y2="619.9" stroke="#b3163f" stroke-width="0.9"/>
<rect x="245.4" y="616.57" width="2" height="2" fill="#b3163f"/>
<line x1="257.2" y1="615.9" x2="257.2" y2="620.57" stroke="#b3163f" stroke-width="0.9"/>
<line x1="255.7" y1="615.9" x2="258.7" y2="615.9" stroke="#b3163f" stroke-width="0.9"/>
<line x1="255.7" y1="620.57" x2="258.7" y2="620.57" stroke="#b3163f" stroke-width="0.9"/>
<rect x="256.2" y="617.23" width="2" height="2" fill="#b3163f"/>
<line x1="268" y1="617.23" x2="268" y2="621.9" stroke="#b3163f" stroke-width="0.9"/>
<line x1="266.5" y1="617.23" x2="269.5" y2="617.23" stroke="#b3163f" stroke-width="0.9"/>
<line x1="266.5" y1="621.9" x2="269.5" y2="621.9" stroke="#b3163f" stroke-width="0.9"/>
<rect x="267" y="618.57" width="2" height="2" fill="#b3163f"/>
<line x1="278.8" y1="610.57" x2="278.8" y2="613.23" stroke="#b3163f" stroke-width="0.9"/>
<line x1="277.3" y1="610.57" x2="280.3" y2="610.57" stroke="#b3163f" stroke-width="0.9"/>
<line x1="277.3" y1="613.23" x2="280.3" y2="613.23" stroke="#b3163f" stroke-width="0.9"/>
<rect x="277.8" y="610.9" width="2" height="2" fill="#b3163f"/>
<line x1="289.6" y1="607.9" x2="289.6" y2="614.57" stroke="#b3163f" stroke-width="0.9"/>
<line x1="288.1" y1="607.9" x2="291.1" y2="607.9" stroke="#b3163f" stroke-width="0.9"/>
<line x1="288.1" y1="614.57" x2="291.1" y2="614.57" stroke="#b3163f" stroke-width="0.9"/>
<rect x="288.6" y="610.23" width="2" height="2" fill="#b3163f"/>
<line x1="300.4" y1="602.57" x2="300.4" y2="607.9" stroke="#b3163f" stroke-width="0.9"/>
<line x1="298.9" y1="602.57" x2="301.9" y2="602.57" stroke="#b3163f" stroke-width="0.9"/>
<line x1="298.9" y1="607.9" x2="301.9" y2="607.9" stroke="#b3163f" stroke-width="0.9"/>
<rect x="299.4" y="604.23" width="2" height="2" fill="#b3163f"/>
<text x="261.4" y="657" font-size="8.6" text-anchor="middle" textLength="43.3" lengthAdjust="spacingAndGlyphs" stroke="#231f20" stroke-width="0.15">Days post BMT</text>
<circle cx="276.6" cy="574.6" r="1.1" fill="#1f3c84"/>
<circle cx="276.6" cy="585" r="1.1" fill="#bd1740"/>
<text x="281.2" y="577.17" font-size="6.3" text-anchor="start" fill="#222" textLength="28.8" lengthAdjust="spacingAndGlyphs">β-catenin<tspan font-size="4.8" dy="-2.5">fl/fl</tspan></text>
<text x="281.2" y="587.57" font-size="6.3" text-anchor="start" fill="#222" textLength="27" lengthAdjust="spacingAndGlyphs">β-catenin<tspan font-size="4.8" dy="-2.5">-/-</tspan></text>
<text transform="rotate(-90 192.9 601.3)" x="192.9" y="604.32" font-size="8.4" text-anchor="middle" textLength="29.4" lengthAdjust="spacingAndGlyphs" stroke="#231f20" stroke-width="0.18">HB (g/dL)</text>
<text x="356.2" y="561.7" font-size="11.8" font-weight="bold" fill="#000" stroke="#000" stroke-width="0.35" textLength="7" lengthAdjust="spacingAndGlyphs">J</text>
<line x1="381.5" y1="570" x2="381.5" y2="633.5" stroke="#231f20" stroke-width="1.4"/>
<line x1="380.8" y1="632.8" x2="507.9" y2="632.8" stroke="#231f20" stroke-width="1.4"/>
<line x1="378.1" y1="632.8" x2="381.5" y2="632.8" stroke="#231f20" stroke-width="1"/>
<text transform="translate(376.5 635.18) scale(0.88 1)" font-size="6.6" text-anchor="end" stroke="#231f20" stroke-width="0.22">0</text>
<line x1="378.1" y1="617.8" x2="381.5" y2="617.8" stroke="#231f20" stroke-width="1"/>
<text transform="translate(376.5 620.18) scale(0.88 1)" font-size="6.6" text-anchor="end" stroke="#231f20" stroke-width="0.22">20</text>
<line x1="378.1" y1="602.8" x2="381.5" y2="602.8" stroke="#231f20" stroke-width="1"/>
<text transform="translate(376.5 605.18) scale(0.88 1)" font-size="6.6" text-anchor="end" stroke="#231f20" stroke-width="0.22">40</text>
<line x1="378.1" y1="587.8" x2="381.5" y2="587.8" stroke="#231f20" stroke-width="1"/>
<text transform="translate(376.5 590.18) scale(0.88 1)" font-size="6.6" text-anchor="end" stroke="#231f20" stroke-width="0.22">60</text>
<line x1="378.1" y1="572.8" x2="381.5" y2="572.8" stroke="#231f20" stroke-width="1"/>
<text transform="translate(376.5 575.18) scale(0.88 1)" font-size="6.6" text-anchor="end" stroke="#231f20" stroke-width="0.22">80</text>
<rect x="386.7" y="617.8" width="5.9" height="15" fill="#8f98be" stroke="#7f88b0" stroke-width="0.7"/>
<rect x="396" y="632.42" width="6" height="0.38" fill="#cb8b7f" stroke="#c27a6c" stroke-width="0.7"/>
<rect x="412" y="619.3" width="6" height="13.5" fill="#8f98be" stroke="#7f88b0" stroke-width="0.7"/>
<rect x="437.6" y="595.3" width="6.2" height="37.5" fill="#8f98be" stroke="#7f88b0" stroke-width="0.7"/>
<rect x="447.3" y="620.8" width="6.2" height="12" fill="#cb8b7f" stroke="#c27a6c" stroke-width="0.7"/>
<rect x="462.9" y="602.8" width="6.1" height="30" fill="#8f98be" stroke="#7f88b0" stroke-width="0.7"/>
<rect x="472.5" y="630.55" width="6" height="2.25" fill="#cb8b7f" stroke="#c27a6c" stroke-width="0.7"/>
<rect x="488.1" y="614.05" width="6.2" height="18.75" fill="#8f98be" stroke="#7f88b0" stroke-width="0.7"/>
<rect x="497.5" y="632.42" width="6" height="0.38" fill="#cb8b7f" stroke="#c27a6c" stroke-width="0.7"/>
<line x1="389.65" y1="614.8" x2="389.65" y2="620.8" stroke="#1f3c84" stroke-width="1"/>
<line x1="388" y1="614.8" x2="391.3" y2="614.8" stroke="#1f3c84" stroke-width="1"/>
<line x1="388" y1="620.8" x2="391.3" y2="620.8" stroke="#1f3c84" stroke-width="1"/>
<circle cx="389.65" cy="614.05" r="1.45" fill="#1f3c84"/>
<circle cx="390.59" cy="617.8" r="1.45" fill="#1f3c84"/>
<circle cx="388.71" cy="621.55" r="1.45" fill="#1f3c84"/>
<line x1="399" y1="632.27" x2="399" y2="632.57" stroke="#bd1740" stroke-width="1"/>
<line x1="397.32" y1="632.27" x2="400.68" y2="632.27" stroke="#bd1740" stroke-width="1"/>
<line x1="397.32" y1="632.57" x2="400.68" y2="632.57" stroke="#bd1740" stroke-width="1"/>
<circle cx="398.1" cy="632.42" r="1.45" fill="#bd1740"/>
<circle cx="399.9" cy="632.42" r="1.45" fill="#bd1740"/>
<line x1="415" y1="618.17" x2="415" y2="620.42" stroke="#1f3c84" stroke-width="1"/>
<line x1="413.32" y1="618.17" x2="416.68" y2="618.17" stroke="#1f3c84" stroke-width="1"/>
<line x1="413.32" y1="620.42" x2="416.68" y2="620.42" stroke="#1f3c84" stroke-width="1"/>
<circle cx="415" cy="617.8" r="1.45" fill="#1f3c84"/>
<circle cx="415.96" cy="619.3" r="1.45" fill="#1f3c84"/>
<circle cx="414.04" cy="620.05" r="1.45" fill="#1f3c84"/>
<circle cx="423.6" cy="632.8" r="1.45" fill="#bd1740"/>
<circle cx="425.4" cy="632.8" r="1.45" fill="#bd1740"/>
<line x1="440.7" y1="590.8" x2="440.7" y2="599.8" stroke="#1f3c84" stroke-width="1"/>
<line x1="438.96" y1="590.8" x2="442.44" y2="590.8" stroke="#1f3c84" stroke-width="1"/>
<line x1="438.96" y1="599.8" x2="442.44" y2="599.8" stroke="#1f3c84" stroke-width="1"/>
<circle cx="440.7" cy="587.8" r="1.45" fill="#1f3c84"/>
<circle cx="441.69" cy="595.3" r="1.45" fill="#1f3c84"/>
<circle cx="439.71" cy="602.8" r="1.45" fill="#1f3c84"/>
<line x1="450.4" y1="613.3" x2="450.4" y2="628.3" stroke="#bd1740" stroke-width="1"/>
<line x1="448.66" y1="613.3" x2="452.14" y2="613.3" stroke="#bd1740" stroke-width="1"/>
<line x1="448.66" y1="628.3" x2="452.14" y2="628.3" stroke="#bd1740" stroke-width="1"/>
<circle cx="450.4" cy="608.05" r="1.45" fill="#bd1740"/>
<circle cx="451.39" cy="621.55" r="1.45" fill="#bd1740"/>
<circle cx="449.41" cy="629.05" r="1.45" fill="#bd1740"/>
<line x1="465.95" y1="598.3" x2="465.95" y2="607.3" stroke="#1f3c84" stroke-width="1"/>
<line x1="464.24" y1="598.3" x2="467.66" y2="598.3" stroke="#1f3c84" stroke-width="1"/>
<line x1="464.24" y1="607.3" x2="467.66" y2="607.3" stroke="#1f3c84" stroke-width="1"/>
<circle cx="465.95" cy="596.8" r="1.45" fill="#1f3c84"/>
<circle cx="466.93" cy="602.8" r="1.45" fill="#1f3c84"/>
<circle cx="464.97" cy="610.3" r="1.45" fill="#1f3c84"/>
<line x1="475.5" y1="628.3" x2="475.5" y2="632.8" stroke="#bd1740" stroke-width="1"/>
<line x1="473.82" y1="628.3" x2="477.18" y2="628.3" stroke="#bd1740" stroke-width="1"/>
<circle cx="475.5" cy="624.55" r="1.45" fill="#bd1740"/>
<circle cx="476.46" cy="631.3" r="1.45" fill="#bd1740"/>
<circle cx="474.54" cy="632.42" r="1.45" fill="#bd1740"/>
<line x1="491.2" y1="611.8" x2="491.2" y2="616.3" stroke="#1f3c84" stroke-width="1"/>
<line x1="489.46" y1="611.8" x2="492.94" y2="611.8" stroke="#1f3c84" stroke-width="1"/>
<line x1="489.46" y1="616.3" x2="492.94" y2="616.3" stroke="#1f3c84" stroke-width="1"/>
<circle cx="491.2" cy="610.3" r="1.45" fill="#1f3c84"/>
<circle cx="492.19" cy="614.05" r="1.45" fill="#1f3c84"/>
<circle cx="490.21" cy="616.3" r="1.45" fill="#1f3c84"/>
<line x1="500.5" y1="632.2" x2="500.5" y2="632.65" stroke="#bd1740" stroke-width="1"/>
<line x1="498.82" y1="632.2" x2="502.18" y2="632.2" stroke="#bd1740" stroke-width="1"/>
<line x1="498.82" y1="632.65" x2="502.18" y2="632.65" stroke="#bd1740" stroke-width="1"/>
<circle cx="499.6" cy="632.05" r="1.45" fill="#bd1740"/>
<circle cx="501.4" cy="632.42" r="1.45" fill="#bd1740"/>
<line x1="394.3" y1="632.8" x2="394.3" y2="635.3" stroke="#231f20" stroke-width="0.9"/>
<text x="394.3" y="644.88" font-size="6.6" text-anchor="middle">6</text>
<line x1="419.6" y1="632.8" x2="419.6" y2="635.3" stroke="#231f20" stroke-width="0.9"/>
<text x="419.6" y="644.88" font-size="6.6" text-anchor="middle">8</text>
<line x1="446.6" y1="632.8" x2="446.6" y2="635.3" stroke="#231f20" stroke-width="0.9"/>
<text x="446.6" y="644.88" font-size="6.6" text-anchor="middle">10</text>
<line x1="471.5" y1="632.8" x2="471.5" y2="635.3" stroke="#231f20" stroke-width="0.9"/>
<text x="471.5" y="644.88" font-size="6.6" text-anchor="middle">12</text>
<line x1="495.8" y1="632.8" x2="495.8" y2="635.3" stroke="#231f20" stroke-width="0.9"/>
<text x="495.8" y="644.88" font-size="6.6" text-anchor="middle">14</text>
<text x="445" y="657" font-size="8.6" text-anchor="middle" textLength="43.3" lengthAdjust="spacingAndGlyphs" stroke="#231f20" stroke-width="0.15">Days post BMT</text>
<circle cx="391.9" cy="575.3" r="1.1" fill="#1f3c84"/>
<circle cx="391.9" cy="585" r="1.1" fill="#bd1740"/>
<text x="396.5" y="577.87" font-size="6.3" text-anchor="start" fill="#222" textLength="28.8" lengthAdjust="spacingAndGlyphs">β-catenin<tspan font-size="4.8" dy="-2.5">fl/fl</tspan></text>
<text x="396.5" y="587.57" font-size="6.3" text-anchor="start" fill="#222" textLength="27" lengthAdjust="spacingAndGlyphs">β-catenin<tspan font-size="4.8" dy="-2.5">-/-</tspan></text>
<text transform="rotate(-90 359.8 601.3)" x="359.8" y="604.18" font-size="8" text-anchor="middle" textLength="59.4" lengthAdjust="spacingAndGlyphs" stroke="#231f20" stroke-width="0.18">BFU-Es / 5x10<tspan font-size="5.2" dy="-2.7">5</tspan><tspan dy="2.7"> cells</tspan></text>
<text x="6.9" y="16.8" font-size="11.8" font-weight="bold" fill="#000" stroke="#000" stroke-width="0.35" textLength="9.6" lengthAdjust="spacingAndGlyphs">A</text>
</g>
</svg></body></html>
